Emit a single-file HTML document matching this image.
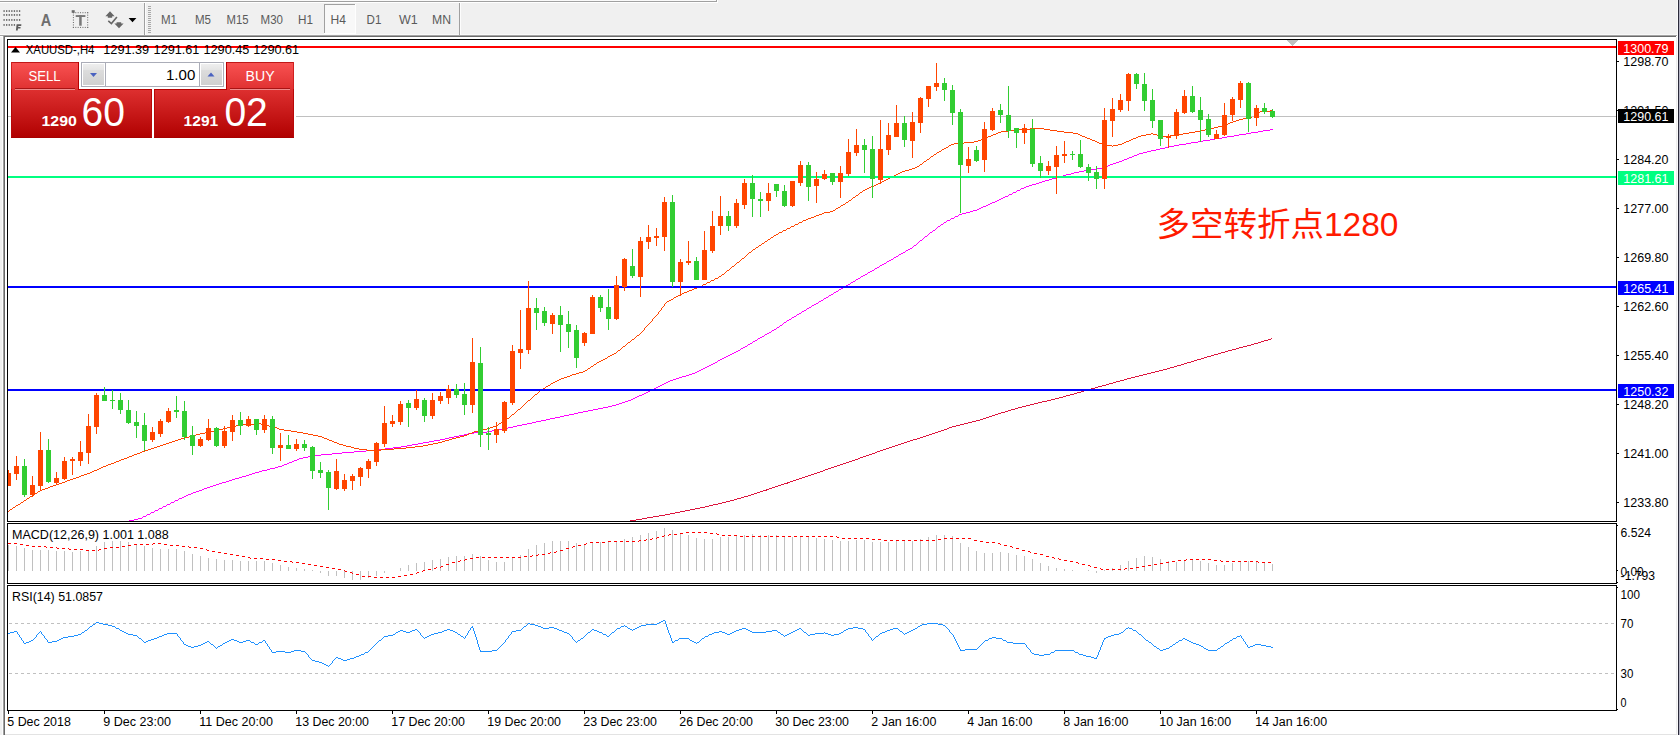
<!DOCTYPE html>
<html lang="zh"><head><meta charset="utf-8"><title>XAUUSD H4</title>
<style>html,body{margin:0;padding:0;background:#fff;overflow:hidden}body{width:1680px;height:735px}svg{display:block;font-family:"Liberation Sans","Noto Sans CJK SC",sans-serif}.t text{white-space:pre}</style>
</head><body>
<svg width="1680" height="735" viewBox="0 0 1680 735">
<defs>
<linearGradient id="gt" x1="0" y1="0" x2="0" y2="1"><stop offset="0" stop-color="#f95252"/><stop offset="1" stop-color="#e03232"/></linearGradient>
<linearGradient id="gb" x1="0" y1="0" x2="0" y2="1"><stop offset="0" stop-color="#de3030"/><stop offset="1" stop-color="#b00000"/></linearGradient>
<linearGradient id="gs" x1="0" y1="0" x2="0" y2="1"><stop offset="0" stop-color="#eeeeee"/><stop offset="0.3" stop-color="#e4e4e4"/><stop offset="0.31" stop-color="#dcdcdc"/><stop offset="1" stop-color="#d0d0d0"/></linearGradient>
<clipPath id="cm"><rect x="8" y="40" width="1608" height="481"/></clipPath>
</defs>
<g shape-rendering="crispEdges">
<rect x="0" y="0" width="1680" height="735" fill="#ffffff"/>
<rect x="0" y="0" width="1677" height="35" fill="#f0f0f0"/>
<rect x="0" y="0" width="716" height="1" fill="#fafafa"/>
<rect x="0" y="1" width="717" height="1" fill="#a0a0a0"/>
<rect x="716" y="0" width="1" height="2" fill="#a0a0a0"/>
<rect x="0" y="2" width="718" height="1" fill="#ffffff"/>
<rect x="717" y="0" width="1" height="3" fill="#ffffff"/>
<rect x="0" y="34" width="1677" height="1" fill="#f8f8f8"/>
<rect x="0" y="35" width="1677" height="1" fill="#a4a4a4"/>
<rect x="3" y="36" width="1673" height="1" fill="#6a6a6a"/>
<rect x="0" y="37" width="2" height="698" fill="#f0f0f0"/>
<rect x="2" y="36" width="1" height="699" fill="#fcfcfc"/>
<rect x="3" y="36" width="1" height="699" fill="#a0a0a0"/>
<rect x="4" y="36" width="1" height="699" fill="#696969"/>
<rect x="1676" y="37" width="1" height="698" fill="#ededed"/>
<rect x="1677" y="0" width="1" height="735" fill="#fbfbfb"/>
<rect x="1678" y="0" width="1" height="735" fill="#2a2a3a"/>
<rect x="1679" y="0" width="1" height="735" fill="#b4b4c4"/>
<rect x="5" y="734" width="1672" height="1" fill="#e3e3e3"/>
<rect x="144" y="3" width="1" height="32" fill="#a0a0a0"/>
<rect x="145" y="3" width="1" height="32" fill="#fdfdfd"/>
<rect x="148" y="6" width="3" height="1" fill="#a8a8a8"/>
<rect x="148" y="8" width="3" height="1" fill="#a8a8a8"/>
<rect x="148" y="10" width="3" height="1" fill="#a8a8a8"/>
<rect x="148" y="12" width="3" height="1" fill="#a8a8a8"/>
<rect x="148" y="14" width="3" height="1" fill="#a8a8a8"/>
<rect x="148" y="16" width="3" height="1" fill="#a8a8a8"/>
<rect x="148" y="18" width="3" height="1" fill="#a8a8a8"/>
<rect x="148" y="20" width="3" height="1" fill="#a8a8a8"/>
<rect x="148" y="22" width="3" height="1" fill="#a8a8a8"/>
<rect x="148" y="24" width="3" height="1" fill="#a8a8a8"/>
<rect x="148" y="26" width="3" height="1" fill="#a8a8a8"/>
<rect x="148" y="28" width="3" height="1" fill="#a8a8a8"/>
<rect x="148" y="30" width="3" height="1" fill="#a8a8a8"/>
<rect x="148" y="32" width="3" height="1" fill="#a8a8a8"/>
<rect x="459" y="3" width="1" height="32" fill="#a0a0a0"/>
<rect x="460" y="3" width="1" height="32" fill="#fdfdfd"/>
<rect x="324" y="4" width="32" height="30" fill="#f8f8f8"/>
<rect x="324" y="4" width="32" height="1" fill="#a0a0a0"/>
<rect x="324" y="4" width="1" height="30" fill="#a0a0a0"/>
<rect x="355" y="4" width="1" height="30" fill="#fefefe"/>
<rect x="324" y="33" width="32" height="1" fill="#fefefe"/>
</g>
<rect x="3.45" y="10.1" width="1.3" height="1.9" fill="#707070"/>
<rect x="6.03" y="10.1" width="1.3" height="1.9" fill="#707070"/>
<rect x="8.61" y="10.1" width="1.3" height="1.9" fill="#707070"/>
<rect x="11.19" y="10.1" width="1.3" height="1.9" fill="#707070"/>
<rect x="13.77" y="10.1" width="1.3" height="1.9" fill="#707070"/>
<rect x="16.35" y="10.1" width="1.3" height="1.9" fill="#707070"/>
<rect x="18.93" y="10.1" width="1.3" height="1.9" fill="#707070"/>
<rect x="3.45" y="14" width="1.3" height="1.9" fill="#707070"/>
<rect x="6.03" y="14" width="1.3" height="1.9" fill="#707070"/>
<rect x="8.61" y="14" width="1.3" height="1.9" fill="#707070"/>
<rect x="11.19" y="14" width="1.3" height="1.9" fill="#707070"/>
<rect x="13.77" y="14" width="1.3" height="1.9" fill="#707070"/>
<rect x="16.35" y="14" width="1.3" height="1.9" fill="#707070"/>
<rect x="18.93" y="14" width="1.3" height="1.9" fill="#707070"/>
<rect x="3.45" y="19" width="1.3" height="1.9" fill="#707070"/>
<rect x="6.03" y="19" width="1.3" height="1.9" fill="#707070"/>
<rect x="8.61" y="19" width="1.3" height="1.9" fill="#707070"/>
<rect x="11.19" y="19" width="1.3" height="1.9" fill="#707070"/>
<rect x="13.77" y="19" width="1.3" height="1.9" fill="#707070"/>
<rect x="16.35" y="19" width="1.3" height="1.9" fill="#707070"/>
<rect x="18.93" y="19" width="1.3" height="1.9" fill="#707070"/>
<rect x="3.45" y="24" width="1.3" height="1.9" fill="#707070"/>
<rect x="6.03" y="24" width="1.3" height="1.9" fill="#707070"/>
<rect x="8.61" y="24" width="1.3" height="1.9" fill="#707070"/>
<rect x="11.19" y="24" width="1.3" height="1.9" fill="#707070"/>
<rect x="13.77" y="24" width="1.3" height="1.9" fill="#707070"/>
<path d="M16.6 24.2 L21.4 24.2 L21.2 26 L18.4 26 L18.2 27 L20.6 27 L20.4 28.6 L18 28.6 L17.7 30.6 L15.9 30.6 Z" fill="#5c5c5c"/>
<rect x="72.90" y="12.2" width="1" height="1" fill="#666"/>
<rect x="72.90" y="26.9" width="1" height="1" fill="#666"/>
<rect x="72.9" y="12.20" width="1" height="1" fill="#666"/>
<rect x="87.2" y="12.20" width="1" height="1" fill="#666"/>
<rect x="75.28" y="12.2" width="1" height="1" fill="#666"/>
<rect x="75.28" y="26.9" width="1" height="1" fill="#666"/>
<rect x="72.9" y="14.65" width="1" height="1" fill="#666"/>
<rect x="87.2" y="14.65" width="1" height="1" fill="#666"/>
<rect x="77.66" y="12.2" width="1" height="1" fill="#666"/>
<rect x="77.66" y="26.9" width="1" height="1" fill="#666"/>
<rect x="72.9" y="17.10" width="1" height="1" fill="#666"/>
<rect x="87.2" y="17.10" width="1" height="1" fill="#666"/>
<rect x="80.04" y="12.2" width="1" height="1" fill="#666"/>
<rect x="80.04" y="26.9" width="1" height="1" fill="#666"/>
<rect x="72.9" y="19.55" width="1" height="1" fill="#666"/>
<rect x="87.2" y="19.55" width="1" height="1" fill="#666"/>
<rect x="82.42" y="12.2" width="1" height="1" fill="#666"/>
<rect x="82.42" y="26.9" width="1" height="1" fill="#666"/>
<rect x="72.9" y="22.00" width="1" height="1" fill="#666"/>
<rect x="87.2" y="22.00" width="1" height="1" fill="#666"/>
<rect x="84.80" y="12.2" width="1" height="1" fill="#666"/>
<rect x="84.80" y="26.9" width="1" height="1" fill="#666"/>
<rect x="72.9" y="24.45" width="1" height="1" fill="#666"/>
<rect x="87.2" y="24.45" width="1" height="1" fill="#666"/>
<rect x="87.18" y="12.2" width="1" height="1" fill="#666"/>
<rect x="87.18" y="26.9" width="1" height="1" fill="#666"/>
<rect x="72.9" y="26.90" width="1" height="1" fill="#666"/>
<rect x="87.2" y="26.90" width="1" height="1" fill="#666"/>
<rect x="71.7" y="10.2" width="3" height="2.6" fill="#6a6a6a"/>
<rect x="75.7" y="15.1" width="9.7" height="1.9" fill="#787878"/><rect x="79.2" y="15.1" width="2.5" height="10.6" fill="#787878"/>
<path d="M110 11.2 L114.6 16.2 L112.2 16.2 L112.2 17.8 L107.8 17.8 L107.8 16.2 L105.4 16.2 Z" fill="#666"/>
<path d="M116.6 22.2 L121.2 22.2 L121.2 23.6 L123.6 23.6 L119 28.3 L114.4 23.6 L116.6 23.6 Z" fill="#666"/>
<path d="M108.3 20.9 L111.4 23.6 L116.9 16.9" fill="none" stroke="#666" stroke-width="1.6"/>
<path d="M128.6 18 L136.4 18 L132.5 22.2 Z" fill="#000"/>
<g class="t">
<text x="46" y="26" font-size="17" fill="#6e6e6e" text-anchor="middle" textLength="10.5" lengthAdjust="spacingAndGlyphs" font-weight="bold">A</text>
<text x="161" y="23.6" font-size="12" fill="#5a5a5a" textLength="16" lengthAdjust="spacingAndGlyphs">M1</text>
<text x="195" y="23.6" font-size="12" fill="#5a5a5a" textLength="16" lengthAdjust="spacingAndGlyphs">M5</text>
<text x="226.6" y="23.6" font-size="12" fill="#5a5a5a" textLength="22" lengthAdjust="spacingAndGlyphs">M15</text>
<text x="260.6" y="23.6" font-size="12" fill="#5a5a5a" textLength="22.4" lengthAdjust="spacingAndGlyphs">M30</text>
<text x="298" y="23.6" font-size="12" fill="#5a5a5a" textLength="15" lengthAdjust="spacingAndGlyphs">H1</text>
<text x="330.6" y="23.6" font-size="12" fill="#5a5a5a" textLength="15.4" lengthAdjust="spacingAndGlyphs">H4</text>
<text x="366.6" y="23.6" font-size="12" fill="#5a5a5a" textLength="14.8" lengthAdjust="spacingAndGlyphs">D1</text>
<text x="399" y="23.6" font-size="12" fill="#5a5a5a" textLength="18.7" lengthAdjust="spacingAndGlyphs">W1</text>
<text x="432" y="23.6" font-size="12" fill="#5a5a5a" textLength="19" lengthAdjust="spacingAndGlyphs">MN</text>
</g>
<g shape-rendering="crispEdges">
<rect x="7" y="39" width="1610" height="1" fill="#000"/>
<rect x="7" y="521" width="1610" height="1" fill="#000"/>
<rect x="7" y="39" width="1" height="483" fill="#000"/>
<rect x="1616" y="39" width="1" height="483" fill="#000"/>
<rect x="7" y="523" width="1610" height="1" fill="#000"/>
<rect x="7" y="583" width="1610" height="1" fill="#000"/>
<rect x="7" y="523" width="1" height="61" fill="#000"/>
<rect x="1616" y="523" width="1" height="61" fill="#000"/>
<rect x="7" y="585" width="1610" height="1" fill="#000"/>
<rect x="7" y="710" width="1610" height="1" fill="#000"/>
<rect x="7" y="585" width="1" height="126" fill="#000"/>
<rect x="1616" y="585" width="1" height="126" fill="#000"/>
</g>
<g shape-rendering="crispEdges">
<rect x="1287" y="40" width="11" height="1" fill="#c0c0c0"/>
<rect x="1288" y="41" width="9" height="1" fill="#c0c0c0"/>
<rect x="1289" y="42" width="7" height="1" fill="#c0c0c0"/>
<rect x="1290" y="43" width="5" height="1" fill="#c0c0c0"/>
<rect x="1291" y="44" width="3" height="1" fill="#c0c0c0"/>
<rect x="1292" y="45" width="1" height="1" fill="#c0c0c0"/>
</g>
<g clip-path="url(#cm)" shape-rendering="crispEdges">
<path d="M1271 338h1v1h-1zM1268 339h3v1h-3zM1264 340h4v1h-4zM1261 341h3v1h-3zM1258 342h3v1h-3zM1254 343h4v1h-4zM1251 344h3v1h-3zM1247 345h4v1h-4zM1243 346h4v1h-4zM1239 347h4v1h-4zM1236 348h3v1h-3zM1232 349h4v1h-4zM1228 350h4v1h-4zM1225 351h3v1h-3zM1221 352h4v1h-4zM1218 353h3v1h-3zM1214 354h4v1h-4zM1211 355h3v1h-3zM1207 356h4v1h-4zM1204 357h3v1h-3zM1201 358h3v1h-3zM1197 359h4v1h-4zM1194 360h3v1h-3zM1191 361h3v1h-3zM1187 362h4v1h-4zM1184 363h3v1h-3zM1181 364h3v1h-3zM1177 365h4v1h-4zM1174 366h3v1h-3zM1170 367h4v1h-4zM1167 368h3v1h-3zM1163 369h4v1h-4zM1159 370h4v1h-4zM1155 371h4v1h-4zM1151 372h4v1h-4zM1147 373h4v1h-4zM1143 374h4v1h-4zM1139 375h4v1h-4zM1135 376h4v1h-4zM1131 377h4v1h-4zM1127 378h4v1h-4zM1124 379h3v1h-3zM1120 380h4v1h-4zM1116 381h4v1h-4zM1113 382h3v1h-3zM1109 383h4v1h-4zM1106 384h3v1h-3zM1102 385h4v1h-4zM1098 386h4v1h-4zM1095 387h3v1h-3zM1091 388h4v1h-4zM1088 389h3v1h-3zM1084 390h4v1h-4zM1081 391h3v1h-3zM1077 392h4v1h-4zM1074 393h3v1h-3zM1070 394h4v1h-4zM1066 395h4v1h-4zM1063 396h3v1h-3zM1059 397h4v1h-4zM1055 398h4v1h-4zM1051 399h4v1h-4zM1047 400h4v1h-4zM1042 401h5v1h-5zM1038 402h4v1h-4zM1034 403h4v1h-4zM1030 404h4v1h-4zM1026 405h4v1h-4zM1022 406h4v1h-4zM1018 407h4v1h-4zM1015 408h3v1h-3zM1011 409h4v1h-4zM1008 410h3v1h-3zM1005 411h3v1h-3zM1001 412h4v1h-4zM998 413h3v1h-3zM995 414h3v1h-3zM992 415h3v1h-3zM989 416h3v1h-3zM986 417h3v1h-3zM983 418h3v1h-3zM980 419h3v1h-3zM976 420h4v1h-4zM972 421h4v1h-4zM968 422h4v1h-4zM964 423h4v1h-4zM960 424h4v1h-4zM956 425h4v1h-4zM952 426h4v1h-4zM949 427h3v1h-3zM947 428h2v1h-2zM944 429h3v1h-3zM941 430h3v1h-3zM938 431h3v1h-3zM935 432h3v1h-3zM932 433h3v1h-3zM929 434h3v1h-3zM926 435h3v1h-3zM923 436h3v1h-3zM920 437h3v1h-3zM917 438h3v1h-3zM913 439h4v1h-4zM910 440h3v1h-3zM907 441h3v1h-3zM904 442h3v1h-3zM901 443h3v1h-3zM898 444h3v1h-3zM895 445h3v1h-3zM892 446h3v1h-3zM889 447h3v1h-3zM886 448h3v1h-3zM883 449h3v1h-3zM880 450h3v1h-3zM877 451h3v1h-3zM875 452h2v1h-2zM872 453h3v1h-3zM869 454h3v1h-3zM866 455h3v1h-3zM863 456h3v1h-3zM860 457h3v1h-3zM858 458h2v1h-2zM855 459h3v1h-3zM852 460h3v1h-3zM849 461h3v1h-3zM846 462h3v1h-3zM843 463h3v1h-3zM840 464h3v1h-3zM837 465h3v1h-3zM834 466h3v1h-3zM831 467h3v1h-3zM828 468h3v1h-3zM825 469h3v1h-3zM823 470h2v1h-2zM820 471h3v1h-3zM817 472h3v1h-3zM814 473h3v1h-3zM811 474h3v1h-3zM808 475h3v1h-3zM805 476h3v1h-3zM802 477h3v1h-3zM799 478h3v1h-3zM796 479h3v1h-3zM793 480h3v1h-3zM790 481h3v1h-3zM787 482h3v1h-3zM784 483h4v1h-4zM781 484h3v1h-3zM778 485h3v1h-3zM775 486h3v1h-3zM772 487h3v1h-3zM769 488h3v1h-3zM766 489h3v1h-3zM763 490h4v1h-4zM760 491h3v1h-3zM757 492h3v1h-3zM754 493h3v1h-3zM751 494h3v1h-3zM748 495h3v1h-3zM744 496h4v1h-4zM741 497h3v1h-3zM737 498h4v1h-4zM734 499h3v1h-3zM730 500h4v1h-4zM726 501h4v1h-4zM722 502h4v1h-4zM718 503h4v1h-4zM713 504h5v1h-5zM709 505h4v1h-4zM705 506h4v1h-4zM700 507h5v1h-5zM695 508h5v1h-5zM690 509h5v1h-5zM685 510h5v1h-5zM680 511h5v1h-5zM675 512h5v1h-5zM670 513h5v1h-5zM665 514h5v1h-5zM659 515h6v1h-6zM653 516h6v1h-6zM647 517h6v1h-6zM642 518h5v1h-5zM636 519h6v1h-6zM630 520h6v1h-6zM628 521h2v1h-2z" fill="#dc143c"/>
<path d="M1270 129h3v1h-3zM1263 130h7v1h-7zM1258 131h5v1h-5zM1251 132h7v1h-7zM1246 133h5v1h-5zM1239 134h7v1h-7zM1234 135h5v1h-5zM1227 136h7v1h-7zM1222 137h5v1h-5zM1215 138h7v1h-7zM1210 139h5v1h-5zM1203 140h7v1h-7zM1198 141h5v1h-5zM1191 142h7v1h-7zM1186 143h5v1h-5zM1179 144h7v1h-7zM1174 145h5v1h-5zM1169 146h5v1h-5zM1165 147h4v1h-4zM1160 148h5v1h-5zM1156 149h4v1h-4zM1151 150h5v1h-5zM1147 151h4v1h-4zM1143 152h4v1h-4zM1139 153h4v1h-4zM1137 154h2v1h-2zM1134 155h3v1h-3zM1132 156h2v1h-2zM1129 157h3v1h-3zM1127 158h2v1h-2zM1124 159h3v1h-3zM1122 160h2v1h-2zM1119 161h3v1h-3zM1116 162h3v1h-3zM1113 163h3v1h-3zM1110 164h3v1h-3zM1108 165h2v1h-2zM1105 166h3v1h-3zM1102 167h3v1h-3zM1097 168h5v1h-5zM1091 169h6v1h-6zM1084 170h7v1h-7zM1079 171h5v1h-5zM1074 172h5v1h-5zM1071 173h3v1h-3zM1066 174h5v1h-5zM1063 175h3v1h-3zM1059 176h4v1h-4zM1056 177h3v1h-3zM1052 178h4v1h-4zM1049 179h3v1h-3zM1045 180h4v1h-4zM1042 181h3v1h-3zM1039 182h3v1h-3zM1036 183h3v1h-3zM1032 184h4v1h-4zM1029 185h3v1h-3zM1026 186h3v1h-3zM1024 187h2v1h-2zM1021 188h3v1h-3zM1020 189h1v1h-1zM1017 190h3v1h-3zM1016 191h1v1h-1zM1013 192h3v1h-3zM1012 193h1v1h-1zM1009 194h3v1h-3zM1008 195h1v1h-1zM1005 196h3v1h-3zM1003 197h2v1h-2zM1001 198h2v1h-2zM999 199h2v1h-2zM997 200h2v1h-2zM995 201h2v1h-2zM992 202h3v1h-3zM990 203h2v1h-2zM988 204h2v1h-2zM986 205h2v1h-2zM983 206h3v1h-3zM981 207h2v1h-2zM979 208h2v1h-2zM977 209h2v1h-2zM973 210h4v1h-4zM970 211h3v1h-3zM966 212h4v1h-4zM962 213h4v1h-4zM959 214h3v1h-3zM958 215h1v1h-1zM955 216h3v1h-3zM954 217h1v1h-1zM951 218h3v1h-3zM950 219h1v1h-1zM947 220h3v1h-3zM946 221h1v1h-1zM944 222h2v1h-2zM943 223h1v1h-1zM941 224h2v1h-2zM940 225h1v1h-1zM938 226h2v1h-2zM937 227h1v1h-1zM936 228h1v1h-1zM935 229h1v1h-1zM933 230h2v1h-2zM932 231h1v1h-1zM930 232h2v1h-2zM929 233h1v1h-1zM928 234h1v1h-1zM927 235h1v1h-1zM925 236h2v1h-2zM924 237h1v1h-1zM923 238h1v1h-1zM922 239h1v1h-1zM920 240h2v1h-2zM919 241h1v1h-1zM918 242h1v1h-1zM917 243h1v1h-1zM916 244h1v1h-1zM914 245h2v1h-2zM913 246h1v1h-1zM912 247h1v1h-1zM910 248h2v1h-2zM908 249h2v1h-2zM906 250h2v1h-2zM905 251h1v1h-1zM903 252h2v1h-2zM901 253h2v1h-2zM899 254h2v1h-2zM898 255h1v1h-1zM896 256h2v1h-2zM894 257h2v1h-2zM893 258h1v1h-1zM891 259h2v1h-2zM889 260h2v1h-2zM887 261h2v1h-2zM886 262h1v1h-1zM884 263h2v1h-2zM882 264h2v1h-2zM880 265h2v1h-2zM879 266h1v1h-1zM877 267h2v1h-2zM875 268h2v1h-2zM874 269h1v1h-1zM872 270h2v1h-2zM870 271h2v1h-2zM868 272h2v1h-2zM867 273h1v1h-1zM865 274h2v1h-2zM863 275h2v1h-2zM861 276h2v1h-2zM860 277h1v1h-1zM858 278h2v1h-2zM856 279h2v1h-2zM855 280h1v1h-1zM853 281h2v1h-2zM851 282h2v1h-2zM850 283h1v1h-1zM848 284h2v1h-2zM846 285h2v1h-2zM844 286h2v1h-2zM843 287h1v1h-1zM841 288h2v1h-2zM839 289h2v1h-2zM838 290h1v1h-1zM836 291h2v1h-2zM834 292h2v1h-2zM833 293h1v1h-1zM831 294h2v1h-2zM829 295h2v1h-2zM828 296h1v1h-1zM826 297h2v1h-2zM824 298h2v1h-2zM823 299h1v1h-1zM821 300h2v1h-2zM819 301h2v1h-2zM818 302h1v1h-1zM816 303h2v1h-2zM814 304h2v1h-2zM812 305h2v1h-2zM811 306h1v1h-1zM809 307h2v1h-2zM807 308h2v1h-2zM806 309h1v1h-1zM804 310h2v1h-2zM802 311h2v1h-2zM801 312h1v1h-1zM799 313h2v1h-2zM797 314h2v1h-2zM796 315h1v1h-1zM794 316h2v1h-2zM792 317h2v1h-2zM791 318h1v1h-1zM789 319h2v1h-2zM787 320h2v1h-2zM786 321h1v1h-1zM784 322h2v1h-2zM783 323h1v1h-1zM782 324h1v1h-1zM780 325h2v1h-2zM779 326h1v1h-1zM777 327h2v1h-2zM776 328h1v1h-1zM774 329h2v1h-2zM772 330h2v1h-2zM771 331h1v1h-1zM769 332h2v1h-2zM767 333h2v1h-2zM765 334h2v1h-2zM764 335h1v1h-1zM762 336h2v1h-2zM760 337h2v1h-2zM758 338h2v1h-2zM757 339h1v1h-1zM755 340h2v1h-2zM753 341h2v1h-2zM752 342h1v1h-1zM750 343h2v1h-2zM748 344h2v1h-2zM747 345h1v1h-1zM745 346h2v1h-2zM743 347h2v1h-2zM741 348h2v1h-2zM740 349h1v1h-1zM738 350h2v1h-2zM736 351h2v1h-2zM734 352h2v1h-2zM732 353h2v1h-2zM730 354h2v1h-2zM728 355h2v1h-2zM726 356h2v1h-2zM724 357h2v1h-2zM722 358h2v1h-2zM720 359h2v1h-2zM718 360h2v1h-2zM717 361h1v1h-1zM715 362h2v1h-2zM713 363h2v1h-2zM711 364h2v1h-2zM709 365h2v1h-2zM707 366h2v1h-2zM705 367h2v1h-2zM703 368h2v1h-2zM701 369h2v1h-2zM699 370h2v1h-2zM697 371h2v1h-2zM695 372h2v1h-2zM692 373h3v1h-3zM689 374h3v1h-3zM686 375h3v1h-3zM682 376h4v1h-4zM679 377h3v1h-3zM676 378h3v1h-3zM673 379h3v1h-3zM670 380h3v1h-3zM668 381h2v1h-2zM666 382h2v1h-2zM664 383h2v1h-2zM662 384h2v1h-2zM660 385h2v1h-2zM658 386h2v1h-2zM656 387h2v1h-2zM654 388h2v1h-2zM652 389h2v1h-2zM650 390h2v1h-2zM648 391h2v1h-2zM646 392h2v1h-2zM644 393h2v1h-2zM642 394h2v1h-2zM639 395h3v1h-3zM637 396h2v1h-2zM635 397h2v1h-2zM633 398h2v1h-2zM631 399h2v1h-2zM628 400h3v1h-3zM625 401h3v1h-3zM622 402h3v1h-3zM619 403h3v1h-3zM616 404h3v1h-3zM612 405h4v1h-4zM608 406h4v1h-4zM603 407h5v1h-5zM598 408h5v1h-5zM593 409h5v1h-5zM588 410h5v1h-5zM583 411h5v1h-5zM578 412h5v1h-5zM574 413h4v1h-4zM569 414h5v1h-5zM564 415h5v1h-5zM560 416h4v1h-4zM555 417h5v1h-5zM550 418h5v1h-5zM546 419h4v1h-4zM541 420h5v1h-5zM536 421h5v1h-5zM532 422h4v1h-4zM527 423h5v1h-5zM522 424h5v1h-5zM517 425h5v1h-5zM513 426h4v1h-4zM508 427h5v1h-5zM503 428h5v1h-5zM498 429h5v1h-5zM492 430h6v1h-6zM487 431h5v1h-5zM474 432h13v1h-13zM468 433h6v1h-6zM464 434h4v1h-4zM459 435h5v1h-5zM454 436h5v1h-5zM449 437h5v1h-5zM445 438h4v1h-4zM440 439h5v1h-5zM434 440h6v1h-6zM429 441h5v1h-5zM423 442h6v1h-6zM418 443h5v1h-5zM412 444h6v1h-6zM407 445h5v1h-5zM401 446h6v1h-6zM393 447h8v1h-8zM385 448h8v1h-8zM377 449h8v1h-8zM366 450h11v1h-11zM354 451h12v1h-12zM342 452h12v1h-12zM332 453h10v1h-10zM321 454h11v1h-11zM314 455h7v1h-7zM308 456h6v1h-6zM303 457h5v1h-5zM299 458h4v1h-4zM297 459h2v1h-2zM294 460h3v1h-3zM292 461h2v1h-2zM289 462h3v1h-3zM287 463h2v1h-2zM284 464h3v1h-3zM282 465h2v1h-2zM278 466h4v1h-4zM275 467h3v1h-3zM270 468h5v1h-5zM267 469h3v1h-3zM262 470h5v1h-5zM259 471h3v1h-3zM255 472h4v1h-4zM252 473h3v1h-3zM249 474h3v1h-3zM246 475h3v1h-3zM242 476h4v1h-4zM239 477h3v1h-3zM235 478h4v1h-4zM232 479h3v1h-3zM229 480h3v1h-3zM226 481h3v1h-3zM222 482h4v1h-4zM219 483h3v1h-3zM216 484h3v1h-3zM213 485h3v1h-3zM210 486h3v1h-3zM207 487h3v1h-3zM204 488h3v1h-3zM202 489h2v1h-2zM199 490h3v1h-3zM196 491h3v1h-3zM193 492h3v1h-3zM191 493h2v1h-2zM188 494h3v1h-3zM186 495h2v1h-2zM184 496h2v1h-2zM182 497h2v1h-2zM179 498h3v1h-3zM178 499h1v1h-1zM175 500h3v1h-3zM174 501h1v1h-1zM171 502h3v1h-3zM170 503h1v1h-1zM167 504h3v1h-3zM166 505h1v1h-1zM163 506h3v1h-3zM162 507h1v1h-1zM159 508h3v1h-3zM158 509h1v1h-1zM155 510h3v1h-3zM154 511h1v1h-1zM151 512h3v1h-3zM150 513h1v1h-1zM147 514h3v1h-3zM146 515h1v1h-1zM143 516h3v1h-3zM142 517h1v1h-1zM138 518h4v1h-4zM134 519h4v1h-4zM129 520h5v1h-5zM128 521h1v1h-1z" fill="#ff00ff"/>
<path d="M1270 110h3v1h-3zM1260 111h10v1h-10zM1258 112h2v1h-2zM1257 113h1v1h-1zM1255 114h2v1h-2zM1254 115h1v1h-1zM1252 116h2v1h-2zM1247 117h5v1h-5zM1243 118h4v1h-4zM1239 119h4v1h-4zM1236 120h3v1h-3zM1233 121h3v1h-3zM1230 122h3v1h-3zM1228 123h2v1h-2zM1225 124h3v1h-3zM1222 125h3v1h-3zM1218 126h4v1h-4zM1214 127h4v1h-4zM1030 128h14v1h-14zM1210 128h4v1h-4zM1017 129h13v1h-13zM1044 129h6v1h-6zM1205 129h5v1h-5zM1009 130h8v1h-8zM1050 130h7v1h-7zM1201 130h4v1h-4zM1001 131h8v1h-8zM1057 131h7v1h-7zM1195 131h6v1h-6zM998 132h3v1h-3zM1064 132h9v1h-9zM1189 132h6v1h-6zM996 133h2v1h-2zM1073 133h5v1h-5zM1151 133h2v1h-2zM1183 133h6v1h-6zM993 134h3v1h-3zM1078 134h2v1h-2zM1146 134h5v1h-5zM1153 134h4v1h-4zM1177 134h6v1h-6zM991 135h2v1h-2zM1080 135h2v1h-2zM1141 135h5v1h-5zM1157 135h5v1h-5zM1170 135h7v1h-7zM988 136h3v1h-3zM1082 136h3v1h-3zM1138 136h3v1h-3zM1162 136h8v1h-8zM986 137h2v1h-2zM1085 137h2v1h-2zM1136 137h2v1h-2zM983 138h3v1h-3zM1087 138h3v1h-3zM1133 138h3v1h-3zM981 139h2v1h-2zM1090 139h2v1h-2zM1131 139h2v1h-2zM978 140h3v1h-3zM1092 140h3v1h-3zM1129 140h2v1h-2zM974 141h4v1h-4zM1095 141h2v1h-2zM1126 141h3v1h-3zM964 142h10v1h-10zM1097 142h2v1h-2zM1124 142h2v1h-2zM954 143h10v1h-10zM1099 143h4v1h-4zM1122 143h2v1h-2zM951 144h3v1h-3zM1103 144h4v1h-4zM1118 144h4v1h-4zM949 145h2v1h-2zM1107 145h5v1h-5zM1113 145h5v1h-5zM948 146h1v1h-1zM1112 146h1v1h-1zM946 147h2v1h-2zM944 148h2v1h-2zM942 149h2v1h-2zM941 150h1v1h-1zM939 151h2v1h-2zM937 152h2v1h-2zM936 153h1v1h-1zM934 154h2v1h-2zM933 155h1v1h-1zM931 156h2v1h-2zM930 157h1v1h-1zM929 158h1v1h-1zM927 159h2v1h-2zM926 160h1v1h-1zM924 161h2v1h-2zM923 162h1v1h-1zM922 163h1v1h-1zM920 164h2v1h-2zM919 165h1v1h-1zM917 166h2v1h-2zM915 167h2v1h-2zM912 168h3v1h-3zM909 169h3v1h-3zM905 170h4v1h-4zM902 171h3v1h-3zM900 172h2v1h-2zM898 173h2v1h-2zM896 174h2v1h-2zM894 175h2v1h-2zM892 176h2v1h-2zM890 177h2v1h-2zM888 178h2v1h-2zM886 179h2v1h-2zM884 180h2v1h-2zM882 181h2v1h-2zM880 182h2v1h-2zM878 183h2v1h-2zM876 184h2v1h-2zM874 185h2v1h-2zM871 186h3v1h-3zM869 187h2v1h-2zM867 188h2v1h-2zM865 189h2v1h-2zM863 190h2v1h-2zM862 191h1v1h-1zM860 192h2v1h-2zM859 193h1v1h-1zM858 194h1v1h-1zM856 195h2v1h-2zM855 196h1v1h-1zM853 197h2v1h-2zM852 198h1v1h-1zM851 199h1v1h-1zM849 200h2v1h-2zM848 201h1v1h-1zM846 202h2v1h-2zM845 203h1v1h-1zM843 204h2v1h-2zM841 205h2v1h-2zM840 206h1v1h-1zM838 207h2v1h-2zM836 208h2v1h-2zM835 209h1v1h-1zM833 210h2v1h-2zM830 211h3v1h-3zM824 212h6v1h-6zM822 213h2v1h-2zM819 214h3v1h-3zM816 215h3v1h-3zM814 216h2v1h-2zM811 217h3v1h-3zM808 218h3v1h-3zM806 219h2v1h-2zM803 220h3v1h-3zM802 221h1v1h-1zM799 222h3v1h-3zM798 223h1v1h-1zM795 224h3v1h-3zM794 225h1v1h-1zM791 226h3v1h-3zM790 227h1v1h-1zM787 228h3v1h-3zM786 229h1v1h-1zM783 230h3v1h-3zM782 231h1v1h-1zM779 232h3v1h-3zM778 233h1v1h-1zM776 234h2v1h-2zM774 235h2v1h-2zM773 236h1v1h-1zM771 237h2v1h-2zM770 238h1v1h-1zM768 239h2v1h-2zM767 240h1v1h-1zM765 241h2v1h-2zM764 242h1v1h-1zM762 243h2v1h-2zM761 244h1v1h-1zM759 245h2v1h-2zM758 246h1v1h-1zM756 247h2v1h-2zM755 248h1v1h-1zM753 249h2v1h-2zM752 250h1v1h-1zM751 251h1v1h-1zM749 252h2v1h-2zM748 253h1v1h-1zM747 254h1v1h-1zM746 255h1v1h-1zM745 256h1v1h-1zM744 257h1v1h-1zM742 258h2v1h-2zM741 259h1v1h-1zM740 260h1v1h-1zM739 261h1v1h-1zM737 262h2v1h-2zM736 263h1v1h-1zM735 264h1v1h-1zM734 265h1v1h-1zM732 266h2v1h-2zM731 267h1v1h-1zM730 268h1v1h-1zM729 269h1v1h-1zM727 270h2v1h-2zM726 271h1v1h-1zM725 272h1v1h-1zM724 273h1v1h-1zM722 274h2v1h-2zM721 275h1v1h-1zM719 276h2v1h-2zM718 277h1v1h-1zM715 278h3v1h-3zM714 279h1v1h-1zM711 280h3v1h-3zM710 281h1v1h-1zM707 282h3v1h-3zM706 283h1v1h-1zM703 284h3v1h-3zM702 285h1v1h-1zM699 286h3v1h-3zM697 287h2v1h-2zM694 288h3v1h-3zM692 289h2v1h-2zM689 290h3v1h-3zM687 291h2v1h-2zM684 292h3v1h-3zM682 293h2v1h-2zM680 294h2v1h-2zM678 295h2v1h-2zM676 296h2v1h-2zM674 297h2v1h-2zM673 298h1v1h-1zM671 299h2v1h-2zM669 300h2v1h-2zM667 301h2v1h-2zM666 302h1v1h-1zM665 303h1v1h-1zM664 304h1v1h-1zM664 305h1v1h-1zM663 306h1v1h-1zM662 307h1v1h-1zM661 308h1v1h-1zM661 309h1v1h-1zM660 310h1v1h-1zM659 311h1v1h-1zM658 312h1v1h-1zM658 313h1v1h-1zM657 314h1v1h-1zM656 315h1v1h-1zM655 316h1v1h-1zM654 317h1v1h-1zM653 318h1v1h-1zM652 319h1v1h-1zM652 320h1v1h-1zM651 321h1v1h-1zM650 322h1v1h-1zM649 323h1v1h-1zM648 324h1v1h-1zM647 325h1v1h-1zM646 326h1v1h-1zM645 327h1v1h-1zM644 328h1v1h-1zM644 329h1v1h-1zM643 330h1v1h-1zM642 331h1v1h-1zM641 332h1v1h-1zM640 333h1v1h-1zM639 334h1v1h-1zM637 335h2v1h-2zM636 336h1v1h-1zM635 337h1v1h-1zM634 338h1v1h-1zM632 339h2v1h-2zM631 340h1v1h-1zM630 341h1v1h-1zM628 342h2v1h-2zM627 343h1v1h-1zM626 344h1v1h-1zM625 345h1v1h-1zM623 346h2v1h-2zM622 347h1v1h-1zM621 348h1v1h-1zM620 349h1v1h-1zM618 350h2v1h-2zM617 351h1v1h-1zM616 352h1v1h-1zM614 353h2v1h-2zM612 354h2v1h-2zM610 355h2v1h-2zM608 356h2v1h-2zM607 357h1v1h-1zM605 358h2v1h-2zM603 359h2v1h-2zM601 360h2v1h-2zM599 361h2v1h-2zM597 362h2v1h-2zM596 363h1v1h-1zM594 364h2v1h-2zM593 365h1v1h-1zM591 366h2v1h-2zM590 367h1v1h-1zM588 368h2v1h-2zM587 369h1v1h-1zM585 370h2v1h-2zM583 371h2v1h-2zM579 372h4v1h-4zM576 373h3v1h-3zM572 374h4v1h-4zM570 375h2v1h-2zM567 376h3v1h-3zM564 377h3v1h-3zM561 378h3v1h-3zM559 379h2v1h-2zM557 380h2v1h-2zM555 381h2v1h-2zM553 382h2v1h-2zM551 383h2v1h-2zM550 384h1v1h-1zM548 385h2v1h-2zM546 386h2v1h-2zM545 387h1v1h-1zM543 388h2v1h-2zM542 389h1v1h-1zM540 390h2v1h-2zM539 391h1v1h-1zM538 392h1v1h-1zM537 393h1v1h-1zM535 394h2v1h-2zM534 395h1v1h-1zM533 396h1v1h-1zM532 397h1v1h-1zM531 398h1v1h-1zM530 399h1v1h-1zM528 400h2v1h-2zM527 401h1v1h-1zM526 402h1v1h-1zM525 403h1v1h-1zM524 404h1v1h-1zM523 405h1v1h-1zM522 406h1v1h-1zM521 407h1v1h-1zM520 408h1v1h-1zM518 409h2v1h-2zM517 410h1v1h-1zM516 411h1v1h-1zM515 412h1v1h-1zM514 413h1v1h-1zM512 414h2v1h-2zM511 415h1v1h-1zM510 416h1v1h-1zM509 417h1v1h-1zM507 418h2v1h-2zM506 419h1v1h-1zM504 420h2v1h-2zM503 421h1v1h-1zM501 422h2v1h-2zM259 423h2v1h-2zM499 423h2v1h-2zM242 424h17v1h-17zM261 424h4v1h-4zM498 424h1v1h-1zM236 425h6v1h-6zM265 425h4v1h-4zM496 425h2v1h-2zM232 426h4v1h-4zM269 426h4v1h-4zM493 426h3v1h-3zM227 427h5v1h-5zM273 427h4v1h-4zM490 427h3v1h-3zM223 428h4v1h-4zM277 428h2v1h-2zM487 428h3v1h-3zM218 429h5v1h-5zM279 429h5v1h-5zM483 429h4v1h-4zM214 430h4v1h-4zM284 430h7v1h-7zM479 430h4v1h-4zM209 431h5v1h-5zM291 431h6v1h-6zM474 431h5v1h-5zM205 432h4v1h-4zM297 432h6v1h-6zM472 432h2v1h-2zM200 433h5v1h-5zM303 433h5v1h-5zM469 433h3v1h-3zM196 434h4v1h-4zM308 434h5v1h-5zM467 434h2v1h-2zM192 435h4v1h-4zM313 435h5v1h-5zM464 435h3v1h-3zM189 436h3v1h-3zM318 436h4v1h-4zM460 436h4v1h-4zM185 437h4v1h-4zM322 437h2v1h-2zM456 437h4v1h-4zM181 438h4v1h-4zM324 438h3v1h-3zM452 438h4v1h-4zM178 439h3v1h-3zM327 439h2v1h-2zM449 439h3v1h-3zM175 440h3v1h-3zM329 440h3v1h-3zM445 440h4v1h-4zM172 441h3v1h-3zM332 441h2v1h-2zM442 441h3v1h-3zM169 442h3v1h-3zM334 442h3v1h-3zM438 442h4v1h-4zM166 443h3v1h-3zM337 443h2v1h-2zM433 443h5v1h-5zM163 444h3v1h-3zM339 444h4v1h-4zM428 444h5v1h-5zM160 445h3v1h-3zM343 445h3v1h-3zM423 445h5v1h-5zM157 446h3v1h-3zM346 446h5v1h-5zM415 446h8v1h-8zM154 447h3v1h-3zM351 447h3v1h-3zM406 447h9v1h-9zM151 448h3v1h-3zM354 448h5v1h-5zM394 448h12v1h-12zM148 449h3v1h-3zM359 449h8v1h-8zM381 449h13v1h-13zM145 450h3v1h-3zM367 450h14v1h-14zM142 451h3v1h-3zM140 452h2v1h-2zM137 453h3v1h-3zM134 454h3v1h-3zM132 455h2v1h-2zM129 456h3v1h-3zM127 457h2v1h-2zM124 458h3v1h-3zM121 459h3v1h-3zM119 460h2v1h-2zM116 461h3v1h-3zM114 462h2v1h-2zM111 463h3v1h-3zM108 464h3v1h-3zM106 465h2v1h-2zM103 466h3v1h-3zM101 467h2v1h-2zM99 468h2v1h-2zM97 469h2v1h-2zM94 470h3v1h-3zM92 471h2v1h-2zM90 472h2v1h-2zM87 473h3v1h-3zM84 474h3v1h-3zM81 475h3v1h-3zM79 476h2v1h-2zM76 477h3v1h-3zM73 478h3v1h-3zM70 479h3v1h-3zM67 480h3v1h-3zM65 481h2v1h-2zM62 482h3v1h-3zM59 483h3v1h-3zM56 484h3v1h-3zM53 485h3v1h-3zM50 486h3v1h-3zM48 487h2v1h-2zM45 488h3v1h-3zM42 489h3v1h-3zM40 490h2v1h-2zM38 491h2v1h-2zM37 492h1v1h-1zM35 493h2v1h-2zM34 494h1v1h-1zM32 495h2v1h-2zM30 496h2v1h-2zM29 497h1v1h-1zM27 498h2v1h-2zM26 499h1v1h-1zM24 500h2v1h-2zM23 501h1v1h-1zM21 502h2v1h-2zM20 503h1v1h-1zM18 504h2v1h-2zM16 505h2v1h-2zM15 506h1v1h-1zM13 507h2v1h-2zM12 508h1v1h-1zM10 509h2v1h-2zM9 510h1v1h-1zM8 511h1v1h-1z" fill="#ff4500"/>
<rect x="8" y="116" width="1608" height="1" fill="#c0c0c0"/>
<rect x="8" y="46" width="1608" height="2" fill="#ff0000"/>
<rect x="8" y="176" width="1608" height="2" fill="#00ff80"/>
<rect x="8" y="286" width="1608" height="2" fill="#0000ff"/>
<rect x="8" y="389" width="1608" height="2" fill="#0000ff"/>
<rect x="8" y="470" width="1" height="16" fill="#ff4500"/>
<rect x="6" y="473" width="5" height="13" fill="#ff4500"/>
<rect x="16" y="456" width="1" height="24" fill="#ff4500"/>
<rect x="14" y="466" width="5" height="8" fill="#ff4500"/>
<rect x="24" y="459" width="1" height="38" fill="#32cd32"/>
<rect x="22" y="466" width="5" height="29" fill="#32cd32"/>
<rect x="32" y="476" width="1" height="21" fill="#ff4500"/>
<rect x="30" y="485" width="5" height="10" fill="#ff4500"/>
<rect x="40" y="432" width="1" height="58" fill="#ff4500"/>
<rect x="38" y="450" width="5" height="36" fill="#ff4500"/>
<rect x="48" y="439" width="1" height="44" fill="#32cd32"/>
<rect x="46" y="450" width="5" height="32" fill="#32cd32"/>
<rect x="56" y="472" width="1" height="12" fill="#ff4500"/>
<rect x="54" y="478" width="5" height="5" fill="#ff4500"/>
<rect x="64" y="457" width="1" height="23" fill="#ff4500"/>
<rect x="62" y="461" width="5" height="18" fill="#ff4500"/>
<rect x="72" y="457" width="1" height="18" fill="#ff4500"/>
<rect x="70" y="459" width="5" height="2" fill="#ff4500"/>
<rect x="80" y="441" width="1" height="25" fill="#ff4500"/>
<rect x="78" y="452" width="5" height="9" fill="#ff4500"/>
<rect x="88" y="414" width="1" height="50" fill="#ff4500"/>
<rect x="86" y="426" width="5" height="27" fill="#ff4500"/>
<rect x="96" y="393" width="1" height="41" fill="#ff4500"/>
<rect x="94" y="395" width="5" height="32" fill="#ff4500"/>
<rect x="104" y="387" width="1" height="14" fill="#32cd32"/>
<rect x="102" y="395" width="5" height="6" fill="#32cd32"/>
<rect x="112" y="390" width="1" height="19" fill="#32cd32"/>
<rect x="110" y="400" width="5" height="1" fill="#32cd32"/>
<rect x="120" y="393" width="1" height="21" fill="#32cd32"/>
<rect x="118" y="400" width="5" height="10" fill="#32cd32"/>
<rect x="128" y="400" width="1" height="24" fill="#32cd32"/>
<rect x="126" y="410" width="5" height="13" fill="#32cd32"/>
<rect x="136" y="411" width="1" height="27" fill="#32cd32"/>
<rect x="134" y="422" width="5" height="4" fill="#32cd32"/>
<rect x="144" y="413" width="1" height="38" fill="#32cd32"/>
<rect x="142" y="425" width="5" height="16" fill="#32cd32"/>
<rect x="152" y="427" width="1" height="15" fill="#ff4500"/>
<rect x="150" y="432" width="5" height="8" fill="#ff4500"/>
<rect x="160" y="419" width="1" height="18" fill="#ff4500"/>
<rect x="158" y="421" width="5" height="13" fill="#ff4500"/>
<rect x="168" y="408" width="1" height="15" fill="#ff4500"/>
<rect x="166" y="411" width="5" height="11" fill="#ff4500"/>
<rect x="176" y="396" width="1" height="22" fill="#32cd32"/>
<rect x="174" y="410" width="5" height="2" fill="#32cd32"/>
<rect x="184" y="401" width="1" height="39" fill="#32cd32"/>
<rect x="182" y="411" width="5" height="26" fill="#32cd32"/>
<rect x="192" y="426" width="1" height="29" fill="#32cd32"/>
<rect x="190" y="435" width="5" height="11" fill="#32cd32"/>
<rect x="200" y="437" width="1" height="10" fill="#ff4500"/>
<rect x="198" y="439" width="5" height="7" fill="#ff4500"/>
<rect x="208" y="419" width="1" height="22" fill="#ff4500"/>
<rect x="206" y="428" width="5" height="12" fill="#ff4500"/>
<rect x="216" y="427" width="1" height="20" fill="#32cd32"/>
<rect x="214" y="428" width="5" height="18" fill="#32cd32"/>
<rect x="224" y="426" width="1" height="22" fill="#ff4500"/>
<rect x="222" y="431" width="5" height="15" fill="#ff4500"/>
<rect x="232" y="415" width="1" height="26" fill="#ff4500"/>
<rect x="230" y="420" width="5" height="12" fill="#ff4500"/>
<rect x="240" y="412" width="1" height="23" fill="#32cd32"/>
<rect x="238" y="420" width="5" height="6" fill="#32cd32"/>
<rect x="248" y="416" width="1" height="11" fill="#ff4500"/>
<rect x="246" y="419" width="5" height="7" fill="#ff4500"/>
<rect x="256" y="419" width="1" height="16" fill="#32cd32"/>
<rect x="254" y="419" width="5" height="11" fill="#32cd32"/>
<rect x="264" y="415" width="1" height="18" fill="#ff4500"/>
<rect x="262" y="419" width="5" height="11" fill="#ff4500"/>
<rect x="272" y="416" width="1" height="38" fill="#32cd32"/>
<rect x="270" y="419" width="5" height="29" fill="#32cd32"/>
<rect x="280" y="433" width="1" height="28" fill="#ff4500"/>
<rect x="278" y="445" width="5" height="3" fill="#ff4500"/>
<rect x="288" y="435" width="1" height="14" fill="#32cd32"/>
<rect x="286" y="445" width="5" height="4" fill="#32cd32"/>
<rect x="296" y="439" width="1" height="12" fill="#ff4500"/>
<rect x="294" y="444" width="5" height="5" fill="#ff4500"/>
<rect x="304" y="440" width="1" height="11" fill="#32cd32"/>
<rect x="302" y="444" width="5" height="4" fill="#32cd32"/>
<rect x="312" y="446" width="1" height="33" fill="#32cd32"/>
<rect x="310" y="447" width="5" height="24" fill="#32cd32"/>
<rect x="320" y="462" width="1" height="16" fill="#32cd32"/>
<rect x="318" y="470" width="5" height="3" fill="#32cd32"/>
<rect x="328" y="470" width="1" height="40" fill="#32cd32"/>
<rect x="326" y="472" width="5" height="16" fill="#32cd32"/>
<rect x="336" y="459" width="1" height="31" fill="#ff4500"/>
<rect x="334" y="471" width="5" height="18" fill="#ff4500"/>
<rect x="344" y="474" width="1" height="17" fill="#ff4500"/>
<rect x="342" y="480" width="5" height="9" fill="#ff4500"/>
<rect x="352" y="474" width="1" height="16" fill="#ff4500"/>
<rect x="350" y="476" width="5" height="5" fill="#ff4500"/>
<rect x="360" y="467" width="1" height="19" fill="#ff4500"/>
<rect x="358" y="468" width="5" height="9" fill="#ff4500"/>
<rect x="368" y="459" width="1" height="19" fill="#ff4500"/>
<rect x="366" y="461" width="5" height="8" fill="#ff4500"/>
<rect x="376" y="442" width="1" height="24" fill="#ff4500"/>
<rect x="374" y="443" width="5" height="19" fill="#ff4500"/>
<rect x="384" y="406" width="1" height="41" fill="#ff4500"/>
<rect x="382" y="423" width="5" height="21" fill="#ff4500"/>
<rect x="392" y="415" width="1" height="12" fill="#ff4500"/>
<rect x="390" y="421" width="5" height="3" fill="#ff4500"/>
<rect x="400" y="401" width="1" height="24" fill="#ff4500"/>
<rect x="398" y="404" width="5" height="18" fill="#ff4500"/>
<rect x="408" y="400" width="1" height="27" fill="#32cd32"/>
<rect x="406" y="403" width="5" height="5" fill="#32cd32"/>
<rect x="416" y="390" width="1" height="20" fill="#ff4500"/>
<rect x="414" y="399" width="5" height="9" fill="#ff4500"/>
<rect x="424" y="398" width="1" height="24" fill="#32cd32"/>
<rect x="422" y="400" width="5" height="16" fill="#32cd32"/>
<rect x="432" y="393" width="1" height="26" fill="#ff4500"/>
<rect x="430" y="400" width="5" height="16" fill="#ff4500"/>
<rect x="440" y="392" width="1" height="12" fill="#ff4500"/>
<rect x="438" y="396" width="5" height="5" fill="#ff4500"/>
<rect x="448" y="385" width="1" height="19" fill="#ff4500"/>
<rect x="446" y="389" width="5" height="9" fill="#ff4500"/>
<rect x="456" y="384" width="1" height="14" fill="#32cd32"/>
<rect x="454" y="389" width="5" height="6" fill="#32cd32"/>
<rect x="464" y="383" width="1" height="32" fill="#32cd32"/>
<rect x="462" y="394" width="5" height="11" fill="#32cd32"/>
<rect x="472" y="338" width="1" height="75" fill="#ff4500"/>
<rect x="470" y="362" width="5" height="43" fill="#ff4500"/>
<rect x="480" y="347" width="1" height="100" fill="#32cd32"/>
<rect x="478" y="363" width="5" height="72" fill="#32cd32"/>
<rect x="488" y="427" width="1" height="23" fill="#32cd32"/>
<rect x="486" y="433" width="5" height="2" fill="#32cd32"/>
<rect x="496" y="422" width="1" height="21" fill="#ff4500"/>
<rect x="494" y="429" width="5" height="6" fill="#ff4500"/>
<rect x="504" y="401" width="1" height="32" fill="#ff4500"/>
<rect x="502" y="402" width="5" height="29" fill="#ff4500"/>
<rect x="512" y="345" width="1" height="60" fill="#ff4500"/>
<rect x="510" y="351" width="5" height="52" fill="#ff4500"/>
<rect x="520" y="310" width="1" height="59" fill="#ff4500"/>
<rect x="518" y="349" width="5" height="4" fill="#ff4500"/>
<rect x="528" y="281" width="1" height="73" fill="#ff4500"/>
<rect x="526" y="308" width="5" height="42" fill="#ff4500"/>
<rect x="536" y="298" width="1" height="32" fill="#32cd32"/>
<rect x="534" y="308" width="5" height="5" fill="#32cd32"/>
<rect x="544" y="307" width="1" height="19" fill="#32cd32"/>
<rect x="542" y="311" width="5" height="12" fill="#32cd32"/>
<rect x="552" y="313" width="1" height="21" fill="#ff4500"/>
<rect x="550" y="315" width="5" height="9" fill="#ff4500"/>
<rect x="560" y="306" width="1" height="46" fill="#32cd32"/>
<rect x="558" y="315" width="5" height="10" fill="#32cd32"/>
<rect x="568" y="311" width="1" height="37" fill="#32cd32"/>
<rect x="566" y="324" width="5" height="8" fill="#32cd32"/>
<rect x="576" y="325" width="1" height="43" fill="#32cd32"/>
<rect x="574" y="330" width="5" height="28" fill="#32cd32"/>
<rect x="584" y="332" width="1" height="14" fill="#ff4500"/>
<rect x="582" y="333" width="5" height="10" fill="#ff4500"/>
<rect x="592" y="295" width="1" height="39" fill="#ff4500"/>
<rect x="590" y="297" width="5" height="37" fill="#ff4500"/>
<rect x="600" y="295" width="1" height="17" fill="#32cd32"/>
<rect x="598" y="297" width="5" height="11" fill="#32cd32"/>
<rect x="608" y="289" width="1" height="41" fill="#32cd32"/>
<rect x="606" y="307" width="5" height="12" fill="#32cd32"/>
<rect x="616" y="276" width="1" height="44" fill="#ff4500"/>
<rect x="614" y="285" width="5" height="34" fill="#ff4500"/>
<rect x="624" y="258" width="1" height="33" fill="#ff4500"/>
<rect x="622" y="259" width="5" height="28" fill="#ff4500"/>
<rect x="632" y="249" width="1" height="29" fill="#32cd32"/>
<rect x="630" y="266" width="5" height="10" fill="#32cd32"/>
<rect x="640" y="237" width="1" height="60" fill="#ff4500"/>
<rect x="638" y="241" width="5" height="36" fill="#ff4500"/>
<rect x="648" y="225" width="1" height="24" fill="#ff4500"/>
<rect x="646" y="237" width="5" height="5" fill="#ff4500"/>
<rect x="656" y="228" width="1" height="18" fill="#ff4500"/>
<rect x="654" y="236" width="5" height="2" fill="#ff4500"/>
<rect x="664" y="197" width="1" height="54" fill="#ff4500"/>
<rect x="662" y="202" width="5" height="35" fill="#ff4500"/>
<rect x="672" y="195" width="1" height="92" fill="#32cd32"/>
<rect x="670" y="202" width="5" height="80" fill="#32cd32"/>
<rect x="680" y="259" width="1" height="37" fill="#ff4500"/>
<rect x="678" y="262" width="5" height="20" fill="#ff4500"/>
<rect x="688" y="241" width="1" height="24" fill="#ff4500"/>
<rect x="686" y="261" width="5" height="2" fill="#ff4500"/>
<rect x="696" y="257" width="1" height="23" fill="#32cd32"/>
<rect x="694" y="261" width="5" height="19" fill="#32cd32"/>
<rect x="704" y="231" width="1" height="49" fill="#ff4500"/>
<rect x="702" y="250" width="5" height="30" fill="#ff4500"/>
<rect x="712" y="211" width="1" height="42" fill="#ff4500"/>
<rect x="710" y="226" width="5" height="25" fill="#ff4500"/>
<rect x="720" y="196" width="1" height="39" fill="#ff4500"/>
<rect x="718" y="216" width="5" height="10" fill="#ff4500"/>
<rect x="728" y="211" width="1" height="20" fill="#32cd32"/>
<rect x="726" y="216" width="5" height="10" fill="#32cd32"/>
<rect x="736" y="199" width="1" height="29" fill="#ff4500"/>
<rect x="734" y="203" width="5" height="23" fill="#ff4500"/>
<rect x="744" y="179" width="1" height="30" fill="#ff4500"/>
<rect x="742" y="183" width="5" height="22" fill="#ff4500"/>
<rect x="752" y="175" width="1" height="42" fill="#32cd32"/>
<rect x="750" y="183" width="5" height="16" fill="#32cd32"/>
<rect x="760" y="192" width="1" height="25" fill="#32cd32"/>
<rect x="758" y="199" width="5" height="2" fill="#32cd32"/>
<rect x="768" y="183" width="1" height="28" fill="#ff4500"/>
<rect x="766" y="193" width="5" height="8" fill="#ff4500"/>
<rect x="776" y="184" width="1" height="13" fill="#32cd32"/>
<rect x="774" y="184" width="5" height="7" fill="#32cd32"/>
<rect x="784" y="185" width="1" height="22" fill="#32cd32"/>
<rect x="782" y="191" width="5" height="15" fill="#32cd32"/>
<rect x="792" y="181" width="1" height="26" fill="#ff4500"/>
<rect x="790" y="181" width="5" height="25" fill="#ff4500"/>
<rect x="800" y="161" width="1" height="25" fill="#ff4500"/>
<rect x="798" y="165" width="5" height="18" fill="#ff4500"/>
<rect x="808" y="162" width="1" height="39" fill="#32cd32"/>
<rect x="806" y="165" width="5" height="22" fill="#32cd32"/>
<rect x="816" y="172" width="1" height="31" fill="#ff4500"/>
<rect x="814" y="179" width="5" height="7" fill="#ff4500"/>
<rect x="824" y="170" width="1" height="10" fill="#ff4500"/>
<rect x="822" y="174" width="5" height="5" fill="#ff4500"/>
<rect x="832" y="173" width="1" height="12" fill="#32cd32"/>
<rect x="830" y="173" width="5" height="9" fill="#32cd32"/>
<rect x="840" y="166" width="1" height="32" fill="#ff4500"/>
<rect x="838" y="173" width="5" height="9" fill="#ff4500"/>
<rect x="848" y="139" width="1" height="37" fill="#ff4500"/>
<rect x="846" y="152" width="5" height="22" fill="#ff4500"/>
<rect x="856" y="129" width="1" height="27" fill="#ff4500"/>
<rect x="854" y="145" width="5" height="8" fill="#ff4500"/>
<rect x="864" y="139" width="1" height="34" fill="#32cd32"/>
<rect x="862" y="145" width="5" height="5" fill="#32cd32"/>
<rect x="872" y="136" width="1" height="62" fill="#32cd32"/>
<rect x="870" y="149" width="5" height="30" fill="#32cd32"/>
<rect x="880" y="120" width="1" height="64" fill="#ff4500"/>
<rect x="878" y="149" width="5" height="31" fill="#ff4500"/>
<rect x="888" y="123" width="1" height="32" fill="#ff4500"/>
<rect x="886" y="135" width="5" height="15" fill="#ff4500"/>
<rect x="896" y="105" width="1" height="32" fill="#ff4500"/>
<rect x="894" y="123" width="5" height="14" fill="#ff4500"/>
<rect x="904" y="116" width="1" height="31" fill="#32cd32"/>
<rect x="902" y="123" width="5" height="17" fill="#32cd32"/>
<rect x="912" y="112" width="1" height="46" fill="#ff4500"/>
<rect x="910" y="122" width="5" height="19" fill="#ff4500"/>
<rect x="920" y="97" width="1" height="36" fill="#ff4500"/>
<rect x="918" y="98" width="5" height="25" fill="#ff4500"/>
<rect x="928" y="86" width="1" height="21" fill="#ff4500"/>
<rect x="926" y="86" width="5" height="13" fill="#ff4500"/>
<rect x="936" y="63" width="1" height="28" fill="#ff4500"/>
<rect x="934" y="83" width="5" height="4" fill="#ff4500"/>
<rect x="944" y="78" width="1" height="23" fill="#32cd32"/>
<rect x="942" y="83" width="5" height="7" fill="#32cd32"/>
<rect x="952" y="85" width="1" height="40" fill="#32cd32"/>
<rect x="950" y="90" width="5" height="23" fill="#32cd32"/>
<rect x="960" y="109" width="1" height="104" fill="#32cd32"/>
<rect x="958" y="112" width="5" height="53" fill="#32cd32"/>
<rect x="968" y="147" width="1" height="26" fill="#ff4500"/>
<rect x="966" y="159" width="5" height="7" fill="#ff4500"/>
<rect x="976" y="146" width="1" height="16" fill="#32cd32"/>
<rect x="974" y="150" width="5" height="11" fill="#32cd32"/>
<rect x="984" y="122" width="1" height="50" fill="#ff4500"/>
<rect x="982" y="129" width="5" height="31" fill="#ff4500"/>
<rect x="992" y="108" width="1" height="23" fill="#ff4500"/>
<rect x="990" y="111" width="5" height="19" fill="#ff4500"/>
<rect x="1000" y="104" width="1" height="19" fill="#32cd32"/>
<rect x="998" y="110" width="5" height="5" fill="#32cd32"/>
<rect x="1008" y="86" width="1" height="52" fill="#32cd32"/>
<rect x="1006" y="115" width="5" height="16" fill="#32cd32"/>
<rect x="1016" y="128" width="1" height="20" fill="#32cd32"/>
<rect x="1014" y="128" width="5" height="5" fill="#32cd32"/>
<rect x="1024" y="124" width="1" height="20" fill="#ff4500"/>
<rect x="1022" y="128" width="5" height="5" fill="#ff4500"/>
<rect x="1032" y="119" width="1" height="48" fill="#32cd32"/>
<rect x="1030" y="129" width="5" height="35" fill="#32cd32"/>
<rect x="1040" y="156" width="1" height="22" fill="#32cd32"/>
<rect x="1038" y="163" width="5" height="8" fill="#32cd32"/>
<rect x="1048" y="161" width="1" height="14" fill="#ff4500"/>
<rect x="1046" y="166" width="5" height="5" fill="#ff4500"/>
<rect x="1056" y="146" width="1" height="48" fill="#ff4500"/>
<rect x="1054" y="155" width="5" height="12" fill="#ff4500"/>
<rect x="1064" y="141" width="1" height="22" fill="#ff4500"/>
<rect x="1062" y="154" width="5" height="2" fill="#ff4500"/>
<rect x="1072" y="151" width="1" height="9" fill="#32cd32"/>
<rect x="1070" y="154" width="5" height="1" fill="#32cd32"/>
<rect x="1080" y="140" width="1" height="28" fill="#32cd32"/>
<rect x="1078" y="154" width="5" height="13" fill="#32cd32"/>
<rect x="1088" y="164" width="1" height="17" fill="#32cd32"/>
<rect x="1086" y="167" width="5" height="6" fill="#32cd32"/>
<rect x="1096" y="166" width="1" height="23" fill="#32cd32"/>
<rect x="1094" y="172" width="5" height="7" fill="#32cd32"/>
<rect x="1104" y="108" width="1" height="81" fill="#ff4500"/>
<rect x="1102" y="120" width="5" height="59" fill="#ff4500"/>
<rect x="1112" y="98" width="1" height="39" fill="#ff4500"/>
<rect x="1110" y="109" width="5" height="12" fill="#ff4500"/>
<rect x="1120" y="94" width="1" height="18" fill="#ff4500"/>
<rect x="1118" y="100" width="5" height="10" fill="#ff4500"/>
<rect x="1128" y="73" width="1" height="38" fill="#ff4500"/>
<rect x="1126" y="74" width="5" height="27" fill="#ff4500"/>
<rect x="1136" y="73" width="1" height="16" fill="#32cd32"/>
<rect x="1134" y="74" width="5" height="10" fill="#32cd32"/>
<rect x="1144" y="73" width="1" height="38" fill="#32cd32"/>
<rect x="1142" y="84" width="5" height="17" fill="#32cd32"/>
<rect x="1152" y="89" width="1" height="39" fill="#32cd32"/>
<rect x="1150" y="100" width="5" height="21" fill="#32cd32"/>
<rect x="1160" y="120" width="1" height="26" fill="#32cd32"/>
<rect x="1158" y="120" width="5" height="19" fill="#32cd32"/>
<rect x="1168" y="134" width="1" height="14" fill="#ff4500"/>
<rect x="1166" y="136" width="5" height="2" fill="#ff4500"/>
<rect x="1176" y="109" width="1" height="30" fill="#ff4500"/>
<rect x="1174" y="112" width="5" height="24" fill="#ff4500"/>
<rect x="1184" y="90" width="1" height="24" fill="#ff4500"/>
<rect x="1182" y="96" width="5" height="17" fill="#ff4500"/>
<rect x="1192" y="86" width="1" height="27" fill="#32cd32"/>
<rect x="1190" y="96" width="5" height="16" fill="#32cd32"/>
<rect x="1200" y="97" width="1" height="45" fill="#32cd32"/>
<rect x="1198" y="110" width="5" height="10" fill="#32cd32"/>
<rect x="1208" y="114" width="1" height="23" fill="#32cd32"/>
<rect x="1206" y="119" width="5" height="16" fill="#32cd32"/>
<rect x="1216" y="130" width="1" height="9" fill="#ff4500"/>
<rect x="1214" y="134" width="5" height="5" fill="#ff4500"/>
<rect x="1224" y="103" width="1" height="33" fill="#ff4500"/>
<rect x="1222" y="115" width="5" height="20" fill="#ff4500"/>
<rect x="1232" y="97" width="1" height="24" fill="#ff4500"/>
<rect x="1230" y="99" width="5" height="16" fill="#ff4500"/>
<rect x="1240" y="81" width="1" height="27" fill="#ff4500"/>
<rect x="1238" y="83" width="5" height="17" fill="#ff4500"/>
<rect x="1248" y="82" width="1" height="50" fill="#32cd32"/>
<rect x="1246" y="83" width="5" height="36" fill="#32cd32"/>
<rect x="1256" y="105" width="1" height="21" fill="#ff4500"/>
<rect x="1254" y="108" width="5" height="10" fill="#ff4500"/>
<rect x="1264" y="103" width="1" height="11" fill="#32cd32"/>
<rect x="1262" y="108" width="5" height="4" fill="#32cd32"/>
<rect x="1272" y="109" width="1" height="9" fill="#32cd32"/>
<rect x="1270" y="111" width="5" height="6" fill="#32cd32"/>
</g>
<g shape-rendering="crispEdges">
<rect x="8" y="545" width="1" height="26" fill="#c0c0c0"/>
<rect x="16" y="546" width="1" height="25" fill="#c0c0c0"/>
<rect x="24" y="548" width="1" height="23" fill="#c0c0c0"/>
<rect x="32" y="550" width="1" height="21" fill="#c0c0c0"/>
<rect x="40" y="550" width="1" height="21" fill="#c0c0c0"/>
<rect x="48" y="550" width="1" height="21" fill="#c0c0c0"/>
<rect x="56" y="551" width="1" height="20" fill="#c0c0c0"/>
<rect x="64" y="551" width="1" height="20" fill="#c0c0c0"/>
<rect x="72" y="552" width="1" height="19" fill="#c0c0c0"/>
<rect x="80" y="551" width="1" height="20" fill="#c0c0c0"/>
<rect x="88" y="550" width="1" height="21" fill="#c0c0c0"/>
<rect x="96" y="546" width="1" height="25" fill="#c0c0c0"/>
<rect x="104" y="542" width="1" height="29" fill="#c0c0c0"/>
<rect x="112" y="541" width="1" height="30" fill="#c0c0c0"/>
<rect x="120" y="541" width="1" height="30" fill="#c0c0c0"/>
<rect x="128" y="542" width="1" height="29" fill="#c0c0c0"/>
<rect x="136" y="544" width="1" height="27" fill="#c0c0c0"/>
<rect x="144" y="546" width="1" height="25" fill="#c0c0c0"/>
<rect x="152" y="548" width="1" height="23" fill="#c0c0c0"/>
<rect x="160" y="549" width="1" height="22" fill="#c0c0c0"/>
<rect x="168" y="549" width="1" height="22" fill="#c0c0c0"/>
<rect x="176" y="549" width="1" height="22" fill="#c0c0c0"/>
<rect x="184" y="551" width="1" height="20" fill="#c0c0c0"/>
<rect x="192" y="554" width="1" height="17" fill="#c0c0c0"/>
<rect x="200" y="556" width="1" height="15" fill="#c0c0c0"/>
<rect x="208" y="558" width="1" height="13" fill="#c0c0c0"/>
<rect x="216" y="559" width="1" height="12" fill="#c0c0c0"/>
<rect x="224" y="560" width="1" height="11" fill="#c0c0c0"/>
<rect x="232" y="560" width="1" height="11" fill="#c0c0c0"/>
<rect x="240" y="561" width="1" height="10" fill="#c0c0c0"/>
<rect x="248" y="561" width="1" height="10" fill="#c0c0c0"/>
<rect x="256" y="561" width="1" height="10" fill="#c0c0c0"/>
<rect x="264" y="561" width="1" height="10" fill="#c0c0c0"/>
<rect x="272" y="563" width="1" height="8" fill="#c0c0c0"/>
<rect x="280" y="565" width="1" height="6" fill="#c0c0c0"/>
<rect x="288" y="567" width="1" height="4" fill="#c0c0c0"/>
<rect x="296" y="568" width="1" height="3" fill="#c0c0c0"/>
<rect x="304" y="569" width="1" height="2" fill="#c0c0c0"/>
<rect x="312" y="570" width="1" height="1" fill="#c0c0c0"/>
<rect x="320" y="571" width="1" height="2" fill="#c0c0c0"/>
<rect x="328" y="571" width="1" height="5" fill="#c0c0c0"/>
<rect x="336" y="571" width="1" height="5" fill="#c0c0c0"/>
<rect x="344" y="571" width="1" height="7" fill="#c0c0c0"/>
<rect x="352" y="571" width="1" height="9" fill="#c0c0c0"/>
<rect x="360" y="571" width="1" height="9" fill="#c0c0c0"/>
<rect x="368" y="571" width="1" height="7" fill="#c0c0c0"/>
<rect x="376" y="571" width="1" height="5" fill="#c0c0c0"/>
<rect x="384" y="571" width="1" height="2" fill="#c0c0c0"/>
<rect x="400" y="568" width="1" height="3" fill="#c0c0c0"/>
<rect x="408" y="565" width="1" height="6" fill="#c0c0c0"/>
<rect x="416" y="563" width="1" height="8" fill="#c0c0c0"/>
<rect x="424" y="562" width="1" height="9" fill="#c0c0c0"/>
<rect x="432" y="560" width="1" height="11" fill="#c0c0c0"/>
<rect x="440" y="559" width="1" height="12" fill="#c0c0c0"/>
<rect x="448" y="557" width="1" height="14" fill="#c0c0c0"/>
<rect x="456" y="556" width="1" height="15" fill="#c0c0c0"/>
<rect x="464" y="556" width="1" height="15" fill="#c0c0c0"/>
<rect x="472" y="554" width="1" height="17" fill="#c0c0c0"/>
<rect x="480" y="556" width="1" height="15" fill="#c0c0c0"/>
<rect x="488" y="560" width="1" height="11" fill="#c0c0c0"/>
<rect x="496" y="562" width="1" height="9" fill="#c0c0c0"/>
<rect x="504" y="562" width="1" height="9" fill="#c0c0c0"/>
<rect x="512" y="558" width="1" height="13" fill="#c0c0c0"/>
<rect x="520" y="555" width="1" height="16" fill="#c0c0c0"/>
<rect x="528" y="549" width="1" height="22" fill="#c0c0c0"/>
<rect x="536" y="545" width="1" height="26" fill="#c0c0c0"/>
<rect x="544" y="543" width="1" height="28" fill="#c0c0c0"/>
<rect x="552" y="541" width="1" height="30" fill="#c0c0c0"/>
<rect x="560" y="541" width="1" height="30" fill="#c0c0c0"/>
<rect x="568" y="541" width="1" height="30" fill="#c0c0c0"/>
<rect x="576" y="543" width="1" height="28" fill="#c0c0c0"/>
<rect x="584" y="544" width="1" height="27" fill="#c0c0c0"/>
<rect x="592" y="542" width="1" height="29" fill="#c0c0c0"/>
<rect x="600" y="542" width="1" height="29" fill="#c0c0c0"/>
<rect x="608" y="542" width="1" height="29" fill="#c0c0c0"/>
<rect x="616" y="541" width="1" height="30" fill="#c0c0c0"/>
<rect x="624" y="539" width="1" height="32" fill="#c0c0c0"/>
<rect x="632" y="537" width="1" height="34" fill="#c0c0c0"/>
<rect x="640" y="535" width="1" height="36" fill="#c0c0c0"/>
<rect x="648" y="533" width="1" height="38" fill="#c0c0c0"/>
<rect x="656" y="531" width="1" height="40" fill="#c0c0c0"/>
<rect x="664" y="528" width="1" height="43" fill="#c0c0c0"/>
<rect x="672" y="530" width="1" height="41" fill="#c0c0c0"/>
<rect x="680" y="533" width="1" height="38" fill="#c0c0c0"/>
<rect x="688" y="535" width="1" height="36" fill="#c0c0c0"/>
<rect x="696" y="538" width="1" height="33" fill="#c0c0c0"/>
<rect x="704" y="539" width="1" height="32" fill="#c0c0c0"/>
<rect x="712" y="539" width="1" height="32" fill="#c0c0c0"/>
<rect x="720" y="537" width="1" height="34" fill="#c0c0c0"/>
<rect x="728" y="537" width="1" height="34" fill="#c0c0c0"/>
<rect x="736" y="536" width="1" height="35" fill="#c0c0c0"/>
<rect x="744" y="535" width="1" height="36" fill="#c0c0c0"/>
<rect x="752" y="534" width="1" height="37" fill="#c0c0c0"/>
<rect x="760" y="535" width="1" height="36" fill="#c0c0c0"/>
<rect x="768" y="535" width="1" height="36" fill="#c0c0c0"/>
<rect x="776" y="535" width="1" height="36" fill="#c0c0c0"/>
<rect x="784" y="536" width="1" height="35" fill="#c0c0c0"/>
<rect x="792" y="537" width="1" height="34" fill="#c0c0c0"/>
<rect x="800" y="536" width="1" height="35" fill="#c0c0c0"/>
<rect x="808" y="537" width="1" height="34" fill="#c0c0c0"/>
<rect x="816" y="538" width="1" height="33" fill="#c0c0c0"/>
<rect x="824" y="539" width="1" height="32" fill="#c0c0c0"/>
<rect x="832" y="540" width="1" height="31" fill="#c0c0c0"/>
<rect x="840" y="541" width="1" height="30" fill="#c0c0c0"/>
<rect x="848" y="541" width="1" height="30" fill="#c0c0c0"/>
<rect x="856" y="540" width="1" height="31" fill="#c0c0c0"/>
<rect x="864" y="540" width="1" height="31" fill="#c0c0c0"/>
<rect x="872" y="542" width="1" height="29" fill="#c0c0c0"/>
<rect x="880" y="542" width="1" height="29" fill="#c0c0c0"/>
<rect x="888" y="542" width="1" height="29" fill="#c0c0c0"/>
<rect x="896" y="540" width="1" height="31" fill="#c0c0c0"/>
<rect x="904" y="541" width="1" height="30" fill="#c0c0c0"/>
<rect x="912" y="541" width="1" height="30" fill="#c0c0c0"/>
<rect x="920" y="539" width="1" height="32" fill="#c0c0c0"/>
<rect x="928" y="537" width="1" height="34" fill="#c0c0c0"/>
<rect x="936" y="535" width="1" height="36" fill="#c0c0c0"/>
<rect x="944" y="535" width="1" height="36" fill="#c0c0c0"/>
<rect x="952" y="536" width="1" height="35" fill="#c0c0c0"/>
<rect x="960" y="543" width="1" height="28" fill="#c0c0c0"/>
<rect x="968" y="547" width="1" height="24" fill="#c0c0c0"/>
<rect x="976" y="551" width="1" height="20" fill="#c0c0c0"/>
<rect x="984" y="553" width="1" height="18" fill="#c0c0c0"/>
<rect x="992" y="553" width="1" height="18" fill="#c0c0c0"/>
<rect x="1000" y="552" width="1" height="19" fill="#c0c0c0"/>
<rect x="1008" y="553" width="1" height="18" fill="#c0c0c0"/>
<rect x="1016" y="555" width="1" height="16" fill="#c0c0c0"/>
<rect x="1024" y="556" width="1" height="15" fill="#c0c0c0"/>
<rect x="1032" y="559" width="1" height="12" fill="#c0c0c0"/>
<rect x="1040" y="563" width="1" height="8" fill="#c0c0c0"/>
<rect x="1048" y="566" width="1" height="5" fill="#c0c0c0"/>
<rect x="1056" y="568" width="1" height="3" fill="#c0c0c0"/>
<rect x="1064" y="569" width="1" height="2" fill="#c0c0c0"/>
<rect x="1072" y="570" width="1" height="1" fill="#c0c0c0"/>
<rect x="1088" y="570" width="1" height="1" fill="#c0c0c0"/>
<rect x="1096" y="571" width="1" height="2" fill="#c0c0c0"/>
<rect x="1104" y="570" width="1" height="1" fill="#c0c0c0"/>
<rect x="1112" y="568" width="1" height="3" fill="#c0c0c0"/>
<rect x="1120" y="565" width="1" height="6" fill="#c0c0c0"/>
<rect x="1128" y="561" width="1" height="10" fill="#c0c0c0"/>
<rect x="1136" y="558" width="1" height="13" fill="#c0c0c0"/>
<rect x="1144" y="556" width="1" height="15" fill="#c0c0c0"/>
<rect x="1152" y="557" width="1" height="14" fill="#c0c0c0"/>
<rect x="1160" y="559" width="1" height="12" fill="#c0c0c0"/>
<rect x="1168" y="561" width="1" height="10" fill="#c0c0c0"/>
<rect x="1176" y="562" width="1" height="9" fill="#c0c0c0"/>
<rect x="1184" y="560" width="1" height="11" fill="#c0c0c0"/>
<rect x="1192" y="560" width="1" height="11" fill="#c0c0c0"/>
<rect x="1200" y="561" width="1" height="10" fill="#c0c0c0"/>
<rect x="1208" y="563" width="1" height="8" fill="#c0c0c0"/>
<rect x="1216" y="565" width="1" height="6" fill="#c0c0c0"/>
<rect x="1224" y="565" width="1" height="6" fill="#c0c0c0"/>
<rect x="1232" y="563" width="1" height="8" fill="#c0c0c0"/>
<rect x="1240" y="561" width="1" height="10" fill="#c0c0c0"/>
<rect x="1248" y="561" width="1" height="10" fill="#c0c0c0"/>
<rect x="1256" y="562" width="1" height="9" fill="#c0c0c0"/>
<rect x="1264" y="563" width="1" height="8" fill="#c0c0c0"/>
<rect x="1272" y="564" width="1" height="7" fill="#c0c0c0"/>
<path d="M686 532h3v1h-3zM692 532h3v1h-3zM698 532h3v1h-3zM704 532h3v1h-3zM680 533h3v1h-3zM710 533h3v1h-3zM716 533h1v1h-1zM669 534h2v1h-2zM674 534h3v1h-3zM717 534h2v1h-2zM664 535h1v1h-1zM668 535h1v1h-1zM722 535h3v1h-3zM728 535h3v1h-3zM734 535h3v1h-3zM662 536h2v1h-2zM740 536h3v1h-3zM746 536h3v1h-3zM752 536h3v1h-3zM758 536h3v1h-3zM764 536h3v1h-3zM770 536h3v1h-3zM776 536h3v1h-3zM782 536h3v1h-3zM788 536h3v1h-3zM794 536h3v1h-3zM800 536h3v1h-3zM806 536h3v1h-3zM812 536h3v1h-3zM818 536h3v1h-3zM824 536h3v1h-3zM830 536h3v1h-3zM836 536h1v1h-1zM657 537h2v1h-2zM837 537h2v1h-2zM652 538h1v1h-1zM656 538h1v1h-1zM842 538h3v1h-3zM848 538h3v1h-3zM854 538h3v1h-3zM860 538h3v1h-3zM866 538h3v1h-3zM944 538h3v1h-3zM950 538h3v1h-3zM956 538h3v1h-3zM962 538h3v1h-3zM968 538h3v1h-3zM646 539h1v1h-1zM650 539h2v1h-2zM872 539h3v1h-3zM878 539h3v1h-3zM938 539h3v1h-3zM639 540h2v1h-2zM644 540h2v1h-2zM884 540h3v1h-3zM890 540h3v1h-3zM896 540h3v1h-3zM902 540h3v1h-3zM908 540h3v1h-3zM914 540h3v1h-3zM920 540h3v1h-3zM926 540h3v1h-3zM932 540h3v1h-3zM974 540h3v1h-3zM608 541h3v1h-3zM614 541h3v1h-3zM620 541h3v1h-3zM626 541h3v1h-3zM632 541h3v1h-3zM638 541h1v1h-1zM980 541h3v1h-3zM590 542h3v1h-3zM596 542h3v1h-3zM602 542h3v1h-3zM986 542h3v1h-3zM992 542h3v1h-3zM8 543h3v1h-3zM14 543h3v1h-3zM153 543h2v1h-2zM158 543h3v1h-3zM586 543h1v1h-1zM998 543h2v1h-2zM20 544h3v1h-3zM134 544h3v1h-3zM140 544h3v1h-3zM146 544h3v1h-3zM152 544h1v1h-1zM164 544h3v1h-3zM584 544h2v1h-2zM1000 544h1v1h-1zM26 545h3v1h-3zM128 545h3v1h-3zM170 545h3v1h-3zM176 545h3v1h-3zM578 545h3v1h-3zM1004 545h3v1h-3zM32 546h3v1h-3zM38 546h3v1h-3zM44 546h2v1h-2zM122 546h3v1h-3zM182 546h3v1h-3zM188 546h1v1h-1zM573 546h2v1h-2zM1010 546h2v1h-2zM46 547h1v1h-1zM50 547h3v1h-3zM56 547h1v1h-1zM110 547h3v1h-3zM116 547h3v1h-3zM189 547h2v1h-2zM194 547h3v1h-3zM572 547h1v1h-1zM1012 547h1v1h-1zM57 548h2v1h-2zM62 548h3v1h-3zM68 548h1v1h-1zM104 548h3v1h-3zM200 548h3v1h-3zM566 548h3v1h-3zM1016 548h3v1h-3zM69 549h2v1h-2zM74 549h3v1h-3zM80 549h3v1h-3zM99 549h2v1h-2zM206 549h1v1h-1zM86 550h3v1h-3zM92 550h3v1h-3zM98 550h1v1h-1zM207 550h2v1h-2zM560 550h3v1h-3zM1022 550h3v1h-3zM212 551h3v1h-3zM556 551h1v1h-1zM1028 551h2v1h-2zM218 552h3v1h-3zM550 552h1v1h-1zM554 552h2v1h-2zM1030 552h1v1h-1zM224 553h3v1h-3zM548 553h2v1h-2zM1034 553h3v1h-3zM230 554h3v1h-3zM538 554h1v1h-1zM542 554h3v1h-3zM1040 554h3v1h-3zM236 555h3v1h-3zM532 555h1v1h-1zM536 555h2v1h-2zM242 556h3v1h-3zM524 556h3v1h-3zM530 556h2v1h-2zM1046 556h3v1h-3zM248 557h2v1h-2zM476 557h3v1h-3zM482 557h3v1h-3zM488 557h3v1h-3zM494 557h3v1h-3zM500 557h3v1h-3zM506 557h3v1h-3zM512 557h3v1h-3zM518 557h3v1h-3zM1052 557h2v1h-2zM250 558h1v1h-1zM254 558h3v1h-3zM260 558h3v1h-3zM470 558h3v1h-3zM1054 558h1v1h-1zM1058 558h1v1h-1zM266 559h3v1h-3zM272 559h3v1h-3zM465 559h2v1h-2zM1059 559h2v1h-2zM1186 559h1v1h-1zM1190 559h3v1h-3zM1196 559h3v1h-3zM1202 559h3v1h-3zM1208 559h3v1h-3zM278 560h3v1h-3zM460 560h1v1h-1zM464 560h1v1h-1zM1064 560h3v1h-3zM1178 560h3v1h-3zM1184 560h2v1h-2zM1214 560h3v1h-3zM1220 560h1v1h-1zM284 561h3v1h-3zM290 561h2v1h-2zM458 561h2v1h-2zM1070 561h3v1h-3zM1172 561h3v1h-3zM1221 561h2v1h-2zM1226 561h3v1h-3zM1232 561h3v1h-3zM1238 561h3v1h-3zM1244 561h3v1h-3zM1250 561h3v1h-3zM1256 561h2v1h-2zM292 562h1v1h-1zM296 562h3v1h-3zM452 562h3v1h-3zM1076 562h2v1h-2zM1166 562h3v1h-3zM1258 562h1v1h-1zM1262 562h3v1h-3zM1268 562h3v1h-3zM302 563h3v1h-3zM1078 563h1v1h-1zM1160 563h3v1h-3zM308 564h3v1h-3zM446 564h3v1h-3zM1082 564h3v1h-3zM1154 564h3v1h-3zM314 565h3v1h-3zM1088 565h2v1h-2zM1148 565h3v1h-3zM320 566h3v1h-3zM441 566h2v1h-2zM1090 566h1v1h-1zM1142 566h3v1h-3zM326 567h3v1h-3zM436 567h1v1h-1zM440 567h1v1h-1zM1094 567h3v1h-3zM1136 567h3v1h-3zM332 568h3v1h-3zM434 568h2v1h-2zM1100 568h1v1h-1zM1125 568h2v1h-2zM1130 568h3v1h-3zM338 569h3v1h-3zM428 569h3v1h-3zM1101 569h2v1h-2zM1106 569h3v1h-3zM1112 569h3v1h-3zM1118 569h3v1h-3zM1124 569h1v1h-1zM344 570h1v1h-1zM423 570h2v1h-2zM345 571h2v1h-2zM422 571h1v1h-1zM350 572h2v1h-2zM417 572h2v1h-2zM352 573h1v1h-1zM416 573h1v1h-1zM356 574h3v1h-3zM410 574h3v1h-3zM404 575h3v1h-3zM362 576h3v1h-3zM368 576h3v1h-3zM398 576h3v1h-3zM374 577h3v1h-3zM380 577h3v1h-3zM386 577h3v1h-3zM392 577h3v1h-3z" fill="#ff0000"/>
<line x1="9" y1="623.5" x2="1616" y2="623.5" stroke="#c0c0c0" stroke-dasharray="3 3"/>
<line x1="9" y1="673.5" x2="1616" y2="673.5" stroke="#c0c0c0" stroke-dasharray="3 3"/>
<path d="M663 620h2v1h-2zM661 621h2v1h-2zM665 621h1v1h-1zM96 622h3v1h-3zM659 622h2v1h-2zM665 622h1v1h-1zM95 623h1v1h-1zM99 623h4v1h-4zM528 623h2v1h-2zM657 623h2v1h-2zM665 623h1v1h-1zM927 623h11v1h-11zM93 624h2v1h-2zM103 624h5v1h-5zM527 624h1v1h-1zM530 624h5v1h-5zM646 624h11v1h-11zM666 624h1v1h-1zM922 624h5v1h-5zM938 624h5v1h-5zM92 625h1v1h-1zM108 625h4v1h-4zM526 625h1v1h-1zM535 625h3v1h-3zM624 625h1v1h-1zM641 625h5v1h-5zM666 625h1v1h-1zM920 625h2v1h-2zM943 625h2v1h-2zM90 626h2v1h-2zM112 626h3v1h-3zM472 626h1v1h-1zM524 626h2v1h-2zM538 626h3v1h-3zM621 626h3v1h-3zM625 626h2v1h-2zM639 626h2v1h-2zM666 626h1v1h-1zM918 626h2v1h-2zM945 626h1v1h-1zM89 627h1v1h-1zM115 627h1v1h-1zM471 627h2v1h-2zM523 627h1v1h-1zM541 627h2v1h-2zM549 627h5v1h-5zM620 627h1v1h-1zM627 627h1v1h-1zM637 627h2v1h-2zM667 627h1v1h-1zM853 627h5v1h-5zM917 627h1v1h-1zM946 627h1v1h-1zM1128 627h1v1h-1zM88 628h1v1h-1zM116 628h3v1h-3zM470 628h1v1h-1zM473 628h1v1h-1zM522 628h1v1h-1zM543 628h6v1h-6zM554 628h3v1h-3zM617 628h3v1h-3zM628 628h2v1h-2zM635 628h2v1h-2zM667 628h1v1h-1zM742 628h4v1h-4zM799 628h2v1h-2zM848 628h5v1h-5zM858 628h5v1h-5zM893 628h5v1h-5zM915 628h2v1h-2zM947 628h1v1h-1zM1126 628h2v1h-2zM1129 628h3v1h-3zM87 629h1v1h-1zM119 629h1v1h-1zM415 629h2v1h-2zM447 629h3v1h-3zM470 629h1v1h-1zM473 629h1v1h-1zM521 629h1v1h-1zM557 629h2v1h-2zM592 629h2v1h-2zM616 629h1v1h-1zM630 629h2v1h-2zM633 629h2v1h-2zM667 629h1v1h-1zM739 629h3v1h-3zM746 629h2v1h-2zM797 629h2v1h-2zM801 629h1v1h-1zM846 629h2v1h-2zM863 629h2v1h-2zM890 629h3v1h-3zM898 629h1v1h-1zM913 629h2v1h-2zM948 629h1v1h-1zM1125 629h1v1h-1zM1132 629h1v1h-1zM85 630h2v1h-2zM120 630h2v1h-2zM400 630h3v1h-3zM412 630h3v1h-3zM417 630h1v1h-1zM444 630h3v1h-3zM450 630h3v1h-3zM469 630h1v1h-1zM473 630h1v1h-1zM516 630h5v1h-5zM559 630h3v1h-3zM591 630h1v1h-1zM594 630h3v1h-3zM615 630h1v1h-1zM632 630h1v1h-1zM668 630h1v1h-1zM736 630h3v1h-3zM748 630h2v1h-2zM772 630h5v1h-5zM795 630h2v1h-2zM802 630h1v1h-1zM844 630h2v1h-2zM865 630h1v1h-1zM887 630h3v1h-3zM899 630h1v1h-1zM911 630h2v1h-2zM949 630h1v1h-1zM1124 630h1v1h-1zM1133 630h3v1h-3zM14 631h3v1h-3zM40 631h1v1h-1zM84 631h1v1h-1zM122 631h2v1h-2zM398 631h2v1h-2zM403 631h3v1h-3zM410 631h2v1h-2zM418 631h1v1h-1zM442 631h2v1h-2zM453 631h2v1h-2zM468 631h1v1h-1zM474 631h1v1h-1zM512 631h4v1h-4zM562 631h2v1h-2zM590 631h1v1h-1zM597 631h2v1h-2zM614 631h1v1h-1zM668 631h1v1h-1zM719 631h3v1h-3zM734 631h2v1h-2zM750 631h2v1h-2zM766 631h6v1h-6zM777 631h1v1h-1zM793 631h2v1h-2zM803 631h1v1h-1zM843 631h1v1h-1zM865 631h1v1h-1zM885 631h2v1h-2zM900 631h2v1h-2zM909 631h2v1h-2zM949 631h1v1h-1zM1123 631h1v1h-1zM1136 631h1v1h-1zM10 632h4v1h-4zM17 632h1v1h-1zM39 632h1v1h-1zM41 632h1v1h-1zM82 632h2v1h-2zM124 632h2v1h-2zM396 632h2v1h-2zM406 632h4v1h-4zM419 632h1v1h-1zM438 632h4v1h-4zM455 632h2v1h-2zM468 632h1v1h-1zM474 632h1v1h-1zM511 632h1v1h-1zM564 632h3v1h-3zM588 632h2v1h-2zM599 632h3v1h-3zM612 632h2v1h-2zM668 632h1v1h-1zM714 632h5v1h-5zM722 632h3v1h-3zM732 632h2v1h-2zM752 632h14v1h-14zM778 632h2v1h-2zM791 632h2v1h-2zM804 632h2v1h-2zM824 632h1v1h-1zM841 632h2v1h-2zM866 632h1v1h-1zM882 632h3v1h-3zM902 632h1v1h-1zM907 632h2v1h-2zM950 632h1v1h-1zM1121 632h2v1h-2zM1137 632h1v1h-1zM8 633h2v1h-2zM17 633h1v1h-1zM38 633h1v1h-1zM41 633h1v1h-1zM81 633h1v1h-1zM126 633h2v1h-2zM167 633h10v1h-10zM395 633h1v1h-1zM420 633h1v1h-1zM434 633h4v1h-4zM457 633h1v1h-1zM467 633h1v1h-1zM474 633h1v1h-1zM511 633h1v1h-1zM567 633h2v1h-2zM587 633h1v1h-1zM602 633h1v1h-1zM611 633h1v1h-1zM669 633h1v1h-1zM712 633h2v1h-2zM725 633h2v1h-2zM730 633h2v1h-2zM780 633h1v1h-1zM789 633h2v1h-2zM806 633h1v1h-1zM815 633h9v1h-9zM825 633h3v1h-3zM839 633h2v1h-2zM867 633h1v1h-1zM880 633h2v1h-2zM903 633h1v1h-1zM905 633h2v1h-2zM951 633h1v1h-1zM1119 633h2v1h-2zM1138 633h1v1h-1zM18 634h1v1h-1zM37 634h1v1h-1zM42 634h1v1h-1zM78 634h3v1h-3zM128 634h5v1h-5zM164 634h3v1h-3zM177 634h1v1h-1zM393 634h2v1h-2zM420 634h1v1h-1zM431 634h3v1h-3zM458 634h2v1h-2zM467 634h1v1h-1zM475 634h1v1h-1zM510 634h1v1h-1zM569 634h1v1h-1zM586 634h1v1h-1zM603 634h3v1h-3zM610 634h1v1h-1zM669 634h1v1h-1zM709 634h3v1h-3zM727 634h3v1h-3zM781 634h2v1h-2zM787 634h2v1h-2zM807 634h1v1h-1zM810 634h5v1h-5zM828 634h3v1h-3zM834 634h5v1h-5zM868 634h1v1h-1zM879 634h1v1h-1zM904 634h1v1h-1zM952 634h1v1h-1zM1114 634h5v1h-5zM1139 634h2v1h-2zM19 635h1v1h-1zM36 635h1v1h-1zM43 635h1v1h-1zM74 635h4v1h-4zM133 635h4v1h-4zM162 635h2v1h-2zM177 635h1v1h-1zM388 635h5v1h-5zM421 635h1v1h-1zM429 635h2v1h-2zM460 635h1v1h-1zM466 635h1v1h-1zM475 635h1v1h-1zM509 635h1v1h-1zM570 635h1v1h-1zM585 635h1v1h-1zM606 635h1v1h-1zM609 635h1v1h-1zM670 635h1v1h-1zM708 635h1v1h-1zM783 635h1v1h-1zM785 635h2v1h-2zM808 635h2v1h-2zM831 635h3v1h-3zM868 635h1v1h-1zM878 635h1v1h-1zM953 635h1v1h-1zM1111 635h3v1h-3zM1141 635h1v1h-1zM1240 635h1v1h-1zM19 636h1v1h-1zM36 636h1v1h-1zM44 636h1v1h-1zM68 636h6v1h-6zM137 636h1v1h-1zM159 636h3v1h-3zM178 636h1v1h-1zM384 636h4v1h-4zM422 636h1v1h-1zM427 636h2v1h-2zM461 636h2v1h-2zM465 636h1v1h-1zM475 636h1v1h-1zM508 636h1v1h-1zM571 636h1v1h-1zM584 636h1v1h-1zM607 636h2v1h-2zM670 636h1v1h-1zM705 636h3v1h-3zM784 636h1v1h-1zM869 636h1v1h-1zM876 636h2v1h-2zM953 636h1v1h-1zM1108 636h3v1h-3zM1142 636h1v1h-1zM1237 636h3v1h-3zM1241 636h1v1h-1zM20 637h1v1h-1zM35 637h1v1h-1zM44 637h1v1h-1zM63 637h5v1h-5zM138 637h1v1h-1zM157 637h2v1h-2zM179 637h1v1h-1zM383 637h1v1h-1zM423 637h1v1h-1zM425 637h2v1h-2zM463 637h1v1h-1zM465 637h1v1h-1zM476 637h1v1h-1zM508 637h1v1h-1zM572 637h1v1h-1zM583 637h1v1h-1zM670 637h1v1h-1zM704 637h1v1h-1zM870 637h1v1h-1zM875 637h1v1h-1zM954 637h1v1h-1zM992 637h4v1h-4zM1106 637h2v1h-2zM1143 637h1v1h-1zM1236 637h1v1h-1zM1241 637h1v1h-1zM21 638h1v1h-1zM34 638h1v1h-1zM45 638h1v1h-1zM61 638h2v1h-2zM139 638h2v1h-2zM154 638h3v1h-3zM180 638h1v1h-1zM382 638h1v1h-1zM424 638h1v1h-1zM464 638h1v1h-1zM476 638h1v1h-1zM507 638h1v1h-1zM572 638h1v1h-1zM581 638h2v1h-2zM671 638h1v1h-1zM679 638h10v1h-10zM702 638h2v1h-2zM871 638h1v1h-1zM874 638h1v1h-1zM954 638h1v1h-1zM989 638h3v1h-3zM996 638h6v1h-6zM1104 638h2v1h-2zM1144 638h1v1h-1zM1183 638h2v1h-2zM1233 638h3v1h-3zM1242 638h1v1h-1zM21 639h1v1h-1zM33 639h1v1h-1zM46 639h1v1h-1zM59 639h2v1h-2zM141 639h1v1h-1zM151 639h3v1h-3zM180 639h1v1h-1zM231 639h3v1h-3zM381 639h1v1h-1zM476 639h1v1h-1zM506 639h1v1h-1zM573 639h1v1h-1zM580 639h1v1h-1zM671 639h1v1h-1zM678 639h1v1h-1zM689 639h1v1h-1zM701 639h1v1h-1zM871 639h1v1h-1zM873 639h1v1h-1zM955 639h1v1h-1zM988 639h1v1h-1zM1002 639h1v1h-1zM1104 639h1v1h-1zM1145 639h1v1h-1zM1182 639h1v1h-1zM1185 639h2v1h-2zM1232 639h1v1h-1zM1243 639h1v1h-1zM22 640h1v1h-1zM31 640h2v1h-2zM47 640h1v1h-1zM57 640h2v1h-2zM142 640h1v1h-1zM148 640h3v1h-3zM181 640h1v1h-1zM229 640h2v1h-2zM234 640h3v1h-3zM246 640h4v1h-4zM263 640h2v1h-2zM379 640h2v1h-2zM477 640h1v1h-1zM505 640h1v1h-1zM574 640h1v1h-1zM578 640h2v1h-2zM671 640h1v1h-1zM675 640h3v1h-3zM690 640h2v1h-2zM700 640h1v1h-1zM872 640h1v1h-1zM955 640h1v1h-1zM985 640h3v1h-3zM1003 640h3v1h-3zM1103 640h1v1h-1zM1146 640h2v1h-2zM1179 640h3v1h-3zM1187 640h2v1h-2zM1230 640h2v1h-2zM1243 640h1v1h-1zM23 641h1v1h-1zM29 641h2v1h-2zM47 641h1v1h-1zM52 641h5v1h-5zM143 641h1v1h-1zM146 641h2v1h-2zM182 641h1v1h-1zM207 641h2v1h-2zM227 641h2v1h-2zM237 641h2v1h-2zM243 641h3v1h-3zM250 641h1v1h-1zM262 641h1v1h-1zM265 641h1v1h-1zM378 641h1v1h-1zM477 641h1v1h-1zM505 641h1v1h-1zM575 641h1v1h-1zM577 641h1v1h-1zM672 641h1v1h-1zM674 641h1v1h-1zM692 641h2v1h-2zM699 641h1v1h-1zM956 641h1v1h-1zM984 641h1v1h-1zM1006 641h1v1h-1zM1103 641h1v1h-1zM1148 641h1v1h-1zM1178 641h1v1h-1zM1189 641h2v1h-2zM1229 641h1v1h-1zM1244 641h1v1h-1zM23 642h1v1h-1zM26 642h3v1h-3zM48 642h4v1h-4zM144 642h2v1h-2zM183 642h1v1h-1zM205 642h2v1h-2zM209 642h1v1h-1zM225 642h2v1h-2zM239 642h4v1h-4zM251 642h3v1h-3zM259 642h3v1h-3zM265 642h1v1h-1zM377 642h1v1h-1zM477 642h1v1h-1zM504 642h1v1h-1zM576 642h1v1h-1zM672 642h2v1h-2zM694 642h2v1h-2zM697 642h2v1h-2zM956 642h1v1h-1zM983 642h1v1h-1zM1007 642h6v1h-6zM1102 642h1v1h-1zM1149 642h2v1h-2zM1176 642h2v1h-2zM1191 642h2v1h-2zM1227 642h2v1h-2zM1245 642h1v1h-1zM24 643h2v1h-2zM183 643h1v1h-1zM203 643h2v1h-2zM210 643h1v1h-1zM223 643h2v1h-2zM254 643h1v1h-1zM258 643h1v1h-1zM266 643h1v1h-1zM376 643h1v1h-1zM477 643h1v1h-1zM503 643h1v1h-1zM696 643h1v1h-1zM957 643h1v1h-1zM982 643h1v1h-1zM1013 643h12v1h-12zM1102 643h1v1h-1zM1151 643h1v1h-1zM1175 643h1v1h-1zM1193 643h3v1h-3zM1225 643h2v1h-2zM1245 643h1v1h-1zM184 644h2v1h-2zM201 644h2v1h-2zM211 644h2v1h-2zM222 644h1v1h-1zM255 644h3v1h-3zM267 644h1v1h-1zM375 644h1v1h-1zM478 644h1v1h-1zM502 644h1v1h-1zM957 644h1v1h-1zM981 644h1v1h-1zM1025 644h1v1h-1zM1102 644h1v1h-1zM1152 644h1v1h-1zM1173 644h2v1h-2zM1196 644h3v1h-3zM1224 644h1v1h-1zM1246 644h1v1h-1zM1255 644h6v1h-6zM186 645h2v1h-2zM198 645h3v1h-3zM213 645h1v1h-1zM220 645h2v1h-2zM267 645h1v1h-1zM374 645h1v1h-1zM478 645h1v1h-1zM501 645h1v1h-1zM958 645h1v1h-1zM980 645h1v1h-1zM1026 645h1v1h-1zM1101 645h1v1h-1zM1153 645h1v1h-1zM1172 645h1v1h-1zM1199 645h2v1h-2zM1223 645h1v1h-1zM1247 645h1v1h-1zM1253 645h2v1h-2zM1261 645h5v1h-5zM188 646h3v1h-3zM194 646h4v1h-4zM214 646h1v1h-1zM218 646h2v1h-2zM268 646h1v1h-1zM373 646h1v1h-1zM478 646h1v1h-1zM500 646h1v1h-1zM958 646h1v1h-1zM979 646h1v1h-1zM1026 646h1v1h-1zM1101 646h1v1h-1zM1154 646h2v1h-2zM1170 646h2v1h-2zM1201 646h2v1h-2zM1221 646h2v1h-2zM1247 646h1v1h-1zM1250 646h3v1h-3zM1266 646h5v1h-5zM191 647h3v1h-3zM215 647h1v1h-1zM217 647h1v1h-1zM269 647h1v1h-1zM372 647h1v1h-1zM479 647h1v1h-1zM499 647h1v1h-1zM959 647h1v1h-1zM978 647h1v1h-1zM1027 647h1v1h-1zM1100 647h1v1h-1zM1156 647h1v1h-1zM1169 647h1v1h-1zM1203 647h1v1h-1zM1220 647h1v1h-1zM1248 647h2v1h-2zM1271 647h2v1h-2zM216 648h1v1h-1zM269 648h1v1h-1zM371 648h1v1h-1zM479 648h1v1h-1zM498 648h1v1h-1zM959 648h1v1h-1zM977 648h1v1h-1zM1028 648h1v1h-1zM1100 648h1v1h-1zM1157 648h2v1h-2zM1166 648h3v1h-3zM1204 648h2v1h-2zM1218 648h2v1h-2zM270 649h1v1h-1zM370 649h1v1h-1zM479 649h1v1h-1zM497 649h1v1h-1zM960 649h1v1h-1zM965 649h12v1h-12zM1029 649h1v1h-1zM1100 649h1v1h-1zM1159 649h1v1h-1zM1163 649h3v1h-3zM1206 649h2v1h-2zM1217 649h1v1h-1zM271 650h1v1h-1zM294 650h7v1h-7zM369 650h1v1h-1zM480 650h1v1h-1zM492 650h5v1h-5zM960 650h5v1h-5zM1030 650h1v1h-1zM1055 650h19v1h-19zM1099 650h1v1h-1zM1160 650h3v1h-3zM1208 650h9v1h-9zM271 651h1v1h-1zM276 651h9v1h-9zM291 651h3v1h-3zM301 651h4v1h-4zM368 651h1v1h-1zM480 651h12v1h-12zM1030 651h1v1h-1zM1054 651h1v1h-1zM1074 651h1v1h-1zM1099 651h1v1h-1zM272 652h4v1h-4zM285 652h6v1h-6zM305 652h1v1h-1zM365 652h3v1h-3zM1031 652h1v1h-1zM1051 652h3v1h-3zM1075 652h3v1h-3zM1098 652h1v1h-1zM306 653h1v1h-1zM364 653h1v1h-1zM1032 653h2v1h-2zM1050 653h1v1h-1zM1078 653h1v1h-1zM1098 653h1v1h-1zM307 654h1v1h-1zM361 654h3v1h-3zM1034 654h5v1h-5zM1044 654h6v1h-6zM1079 654h4v1h-4zM1098 654h1v1h-1zM308 655h1v1h-1zM359 655h2v1h-2zM1039 655h5v1h-5zM1083 655h3v1h-3zM1097 655h1v1h-1zM308 656h1v1h-1zM356 656h3v1h-3zM1086 656h5v1h-5zM1097 656h1v1h-1zM309 657h1v1h-1zM336 657h2v1h-2zM354 657h2v1h-2zM1091 657h3v1h-3zM1096 657h1v1h-1zM310 658h1v1h-1zM335 658h1v1h-1zM338 658h3v1h-3zM350 658h4v1h-4zM1094 658h3v1h-3zM311 659h1v1h-1zM334 659h1v1h-1zM341 659h2v1h-2zM347 659h3v1h-3zM312 660h3v1h-3zM333 660h1v1h-1zM343 660h4v1h-4zM315 661h4v1h-4zM332 661h1v1h-1zM319 662h3v1h-3zM332 662h1v1h-1zM322 663h2v1h-2zM331 663h1v1h-1zM324 664h2v1h-2zM330 664h1v1h-1zM326 665h2v1h-2zM329 665h1v1h-1zM328 666h1v1h-1z" fill="#1e90ff"/>
</g>
<g shape-rendering="crispEdges">
<rect x="1617" y="61" width="2" height="1" fill="#000"/>
<rect x="1617" y="110" width="2" height="1" fill="#000"/>
<rect x="1617" y="159" width="2" height="1" fill="#000"/>
<rect x="1617" y="208" width="2" height="1" fill="#000"/>
<rect x="1617" y="257" width="2" height="1" fill="#000"/>
<rect x="1617" y="306" width="2" height="1" fill="#000"/>
<rect x="1617" y="355" width="2" height="1" fill="#000"/>
<rect x="1617" y="404" width="2" height="1" fill="#000"/>
<rect x="1617" y="453" width="2" height="1" fill="#000"/>
<rect x="1617" y="502" width="2" height="1" fill="#000"/>
<rect x="1617" y="525" width="1" height="1" fill="#000"/>
<rect x="1617" y="570" width="1" height="1" fill="#000"/>
<rect x="1617" y="582" width="1" height="1" fill="#000"/>
<rect x="1617" y="587" width="1" height="1" fill="#000"/>
<rect x="1617" y="709" width="1" height="1" fill="#000"/>
<rect x="8" y="711" width="1" height="3" fill="#000"/>
<rect x="104" y="711" width="1" height="3" fill="#000"/>
<rect x="200" y="711" width="1" height="3" fill="#000"/>
<rect x="296" y="711" width="1" height="3" fill="#000"/>
<rect x="392" y="711" width="1" height="3" fill="#000"/>
<rect x="488" y="711" width="1" height="3" fill="#000"/>
<rect x="584" y="711" width="1" height="3" fill="#000"/>
<rect x="680" y="711" width="1" height="3" fill="#000"/>
<rect x="776" y="711" width="1" height="3" fill="#000"/>
<rect x="872" y="711" width="1" height="3" fill="#000"/>
<rect x="968" y="711" width="1" height="3" fill="#000"/>
<rect x="1064" y="711" width="1" height="3" fill="#000"/>
<rect x="1160" y="711" width="1" height="3" fill="#000"/>
<rect x="1256" y="711" width="1" height="3" fill="#000"/>
</g>
<g class="t">
<text x="1623.3" y="66" font-size="12" fill="#000" textLength="45.2" lengthAdjust="spacingAndGlyphs">1298.70</text>
<text x="1623.3" y="115" font-size="12" fill="#000" textLength="45.2" lengthAdjust="spacingAndGlyphs">1291.50</text>
<text x="1623.3" y="164" font-size="12" fill="#000" textLength="45.2" lengthAdjust="spacingAndGlyphs">1284.20</text>
<text x="1623.3" y="213" font-size="12" fill="#000" textLength="45.2" lengthAdjust="spacingAndGlyphs">1277.00</text>
<text x="1623.3" y="262" font-size="12" fill="#000" textLength="45.2" lengthAdjust="spacingAndGlyphs">1269.80</text>
<text x="1623.3" y="311" font-size="12" fill="#000" textLength="45.2" lengthAdjust="spacingAndGlyphs">1262.60</text>
<text x="1623.3" y="360" font-size="12" fill="#000" textLength="45.2" lengthAdjust="spacingAndGlyphs">1255.40</text>
<text x="1623.3" y="409" font-size="12" fill="#000" textLength="45.2" lengthAdjust="spacingAndGlyphs">1248.20</text>
<text x="1623.3" y="458" font-size="12" fill="#000" textLength="45.2" lengthAdjust="spacingAndGlyphs">1241.00</text>
<text x="1623.3" y="507" font-size="12" fill="#000" textLength="45.2" lengthAdjust="spacingAndGlyphs">1233.80</text>
<g shape-rendering="crispEdges">
<rect x="1618" y="41" width="56" height="14" fill="#ff0000"/>
<rect x="1618" y="109" width="56" height="14" fill="#000"/>
<rect x="1618" y="171" width="56" height="14" fill="#00ff80"/>
<rect x="1618" y="281" width="56" height="14" fill="#0000ff"/>
<rect x="1618" y="384" width="56" height="14" fill="#0000ff"/>
</g>
<text x="1623.3" y="53" font-size="12" fill="#fff" textLength="45.2" lengthAdjust="spacingAndGlyphs">1300.79</text>
<text x="1623.3" y="121" font-size="12" fill="#fff" textLength="45.2" lengthAdjust="spacingAndGlyphs">1290.61</text>
<text x="1623.3" y="183" font-size="12" fill="#fff" textLength="45.2" lengthAdjust="spacingAndGlyphs">1281.61</text>
<text x="1623.3" y="293" font-size="12" fill="#fff" textLength="45.2" lengthAdjust="spacingAndGlyphs">1265.41</text>
<text x="1623.3" y="396" font-size="12" fill="#fff" textLength="45.2" lengthAdjust="spacingAndGlyphs">1250.32</text>
<text x="1620.6" y="537" font-size="12" fill="#000" textLength="30.4" lengthAdjust="spacingAndGlyphs">6.524</text>
<text x="1620.6" y="575.5" font-size="12" fill="#000" textLength="23.1" lengthAdjust="spacingAndGlyphs">0.00</text>
<text x="1620.6" y="580" font-size="12" fill="#000" textLength="34.5" lengthAdjust="spacingAndGlyphs">-1.793</text>
<text x="1620.6" y="599" font-size="12" fill="#000" textLength="19.4" lengthAdjust="spacingAndGlyphs">100</text>
<text x="1620.6" y="628" font-size="12" fill="#000" textLength="12.8" lengthAdjust="spacingAndGlyphs">70</text>
<text x="1620.6" y="678" font-size="12" fill="#000" textLength="12.8" lengthAdjust="spacingAndGlyphs">30</text>
<text x="1620.6" y="707" font-size="12" fill="#000" textLength="6" lengthAdjust="spacingAndGlyphs">0</text>
<text x="25.8" y="54" font-size="12" fill="#000" textLength="68.6" lengthAdjust="spacingAndGlyphs">XAUUSD-,H4</text>
<text x="103.3" y="54" font-size="12" fill="#000" textLength="45.8" lengthAdjust="spacingAndGlyphs">1291.39</text>
<text x="153.6" y="54" font-size="12" fill="#000" textLength="45.8" lengthAdjust="spacingAndGlyphs">1291.61</text>
<text x="203.5" y="54" font-size="12" fill="#000" textLength="45.8" lengthAdjust="spacingAndGlyphs">1290.45</text>
<text x="253.29999999999998" y="54" font-size="12" fill="#000" textLength="45.8" lengthAdjust="spacingAndGlyphs">1290.61</text>
<text x="12" y="539" font-size="12" fill="#000" textLength="156.7" lengthAdjust="spacingAndGlyphs">MACD(12,26,9) 1.001 1.088</text>
<text x="12" y="600.5" font-size="12" fill="#000" textLength="91" lengthAdjust="spacingAndGlyphs">RSI(14) 51.0857</text>
<text x="7.3" y="726" font-size="12" fill="#000" textLength="63.5" lengthAdjust="spacingAndGlyphs">5 Dec 2018</text>
<text x="103.3" y="726" font-size="12" fill="#000" textLength="67.6" lengthAdjust="spacingAndGlyphs">9 Dec 23:00</text>
<text x="199.3" y="726" font-size="12" fill="#000" textLength="73.6" lengthAdjust="spacingAndGlyphs">11 Dec 20:00</text>
<text x="295.3" y="726" font-size="12" fill="#000" textLength="73.6" lengthAdjust="spacingAndGlyphs">13 Dec 20:00</text>
<text x="391.3" y="726" font-size="12" fill="#000" textLength="73.6" lengthAdjust="spacingAndGlyphs">17 Dec 20:00</text>
<text x="487.3" y="726" font-size="12" fill="#000" textLength="73.6" lengthAdjust="spacingAndGlyphs">19 Dec 20:00</text>
<text x="583.3" y="726" font-size="12" fill="#000" textLength="73.6" lengthAdjust="spacingAndGlyphs">23 Dec 23:00</text>
<text x="679.3" y="726" font-size="12" fill="#000" textLength="73.6" lengthAdjust="spacingAndGlyphs">26 Dec 20:00</text>
<text x="775.3" y="726" font-size="12" fill="#000" textLength="73.6" lengthAdjust="spacingAndGlyphs">30 Dec 23:00</text>
<text x="871.3" y="726" font-size="12" fill="#000" textLength="65" lengthAdjust="spacingAndGlyphs">2 Jan 16:00</text>
<text x="967.3" y="726" font-size="12" fill="#000" textLength="65" lengthAdjust="spacingAndGlyphs">4 Jan 16:00</text>
<text x="1063.3" y="726" font-size="12" fill="#000" textLength="65" lengthAdjust="spacingAndGlyphs">8 Jan 16:00</text>
<text x="1159.3" y="726" font-size="12" fill="#000" textLength="71.8" lengthAdjust="spacingAndGlyphs">10 Jan 16:00</text>
<text x="1255.3" y="726" font-size="12" fill="#000" textLength="71.8" lengthAdjust="spacingAndGlyphs">14 Jan 16:00</text>
</g>
<path d="M11 52.5 L20 52.5 L15.5 47 Z" fill="#000"/>
<g class="t">
<text x="1156.5" y="236" font-size="33" fill="#ff1a00" textLength="242" lengthAdjust="spacingAndGlyphs">多空转折点1280</text>
</g>
<g shape-rendering="crispEdges">
<rect x="11" y="62" width="285" height="76" fill="#ffffff"/>
<rect x="11" y="62" width="68" height="27" fill="url(#gt)"/>
<rect x="226" y="62" width="68" height="27" fill="url(#gt)"/>
<rect x="11" y="89" width="141" height="49" fill="url(#gb)"/>
<rect x="154" y="89" width="140" height="49" fill="url(#gb)"/>
<rect x="11" y="62" width="68" height="1" fill="#c01818"/>
<rect x="11" y="62" width="1" height="27" fill="#d02020"/>
<rect x="78" y="62" width="1" height="27" fill="#d02020"/>
<rect x="226" y="62" width="68" height="1" fill="#c01818"/>
<rect x="226" y="62" width="1" height="27" fill="#d02020"/>
<rect x="293" y="62" width="1" height="27" fill="#d02020"/>
<rect x="11" y="89" width="1" height="49" fill="#b80808"/>
<rect x="151" y="89" width="1" height="49" fill="#b80808"/>
<rect x="11" y="137" width="141" height="1" fill="#a80000"/>
<rect x="154" y="89" width="1" height="49" fill="#b80808"/>
<rect x="293" y="89" width="1" height="49" fill="#b80808"/>
<rect x="154" y="137" width="140" height="1" fill="#a80000"/>
<rect x="78" y="89" width="74" height="1" fill="#b80000"/>
<rect x="154" y="89" width="73" height="1" fill="#b80000"/>
<rect x="78" y="62" width="1" height="28" fill="#b80000"/>
<rect x="226" y="62" width="1" height="28" fill="#b80000"/>
<rect x="15" y="88" width="60" height="1" fill="#a81414"/>
<rect x="15" y="89" width="60" height="1" fill="#ee8c8c"/>
<rect x="230" y="88" width="60" height="1" fill="#a81414"/>
<rect x="230" y="89" width="60" height="1" fill="#ee8c8c"/>
<rect x="81" y="62" width="143" height="25" fill="#abadb8"/>
<rect x="82" y="63" width="141" height="23" fill="#ffffff"/>
<rect x="83" y="64" width="21" height="21" fill="url(#gs)"/>
<rect x="105" y="63" width="1" height="23" fill="#abadb8"/>
<rect x="201" y="64" width="21" height="21" fill="url(#gs)"/>
<rect x="199" y="63" width="1" height="23" fill="#abadb8"/>
</g>
<path d="M90 73 L97 73 L93.5 77 Z" fill="#4a62c0"/>
<path d="M207.5 76.5 L214.5 76.5 L211 72.5 Z" fill="#4a62c0"/>
<g class="t">
<text x="28.4" y="80.5" font-size="14" fill="#fff" textLength="32.3" lengthAdjust="spacingAndGlyphs">SELL</text>
<text x="245.6" y="80.5" font-size="14" fill="#fff" textLength="29" lengthAdjust="spacingAndGlyphs">BUY</text>
<text x="166" y="79.7" font-size="14.5" fill="#000" textLength="29.3" lengthAdjust="spacingAndGlyphs">1.00</text>
<text x="41.5" y="126" font-size="14" fill="#fff" textLength="35.4" lengthAdjust="spacingAndGlyphs" font-weight="bold">1290</text>
<text x="183.6" y="126" font-size="14" fill="#fff" textLength="34.6" lengthAdjust="spacingAndGlyphs" font-weight="bold">1291</text>
<text x="81.6" y="126" font-size="40" fill="#fff" textLength="43.4" lengthAdjust="spacingAndGlyphs">60</text>
<text x="224.4" y="126" font-size="40" fill="#fff" textLength="43.4" lengthAdjust="spacingAndGlyphs">02</text>
</g>
</svg></body></html>
